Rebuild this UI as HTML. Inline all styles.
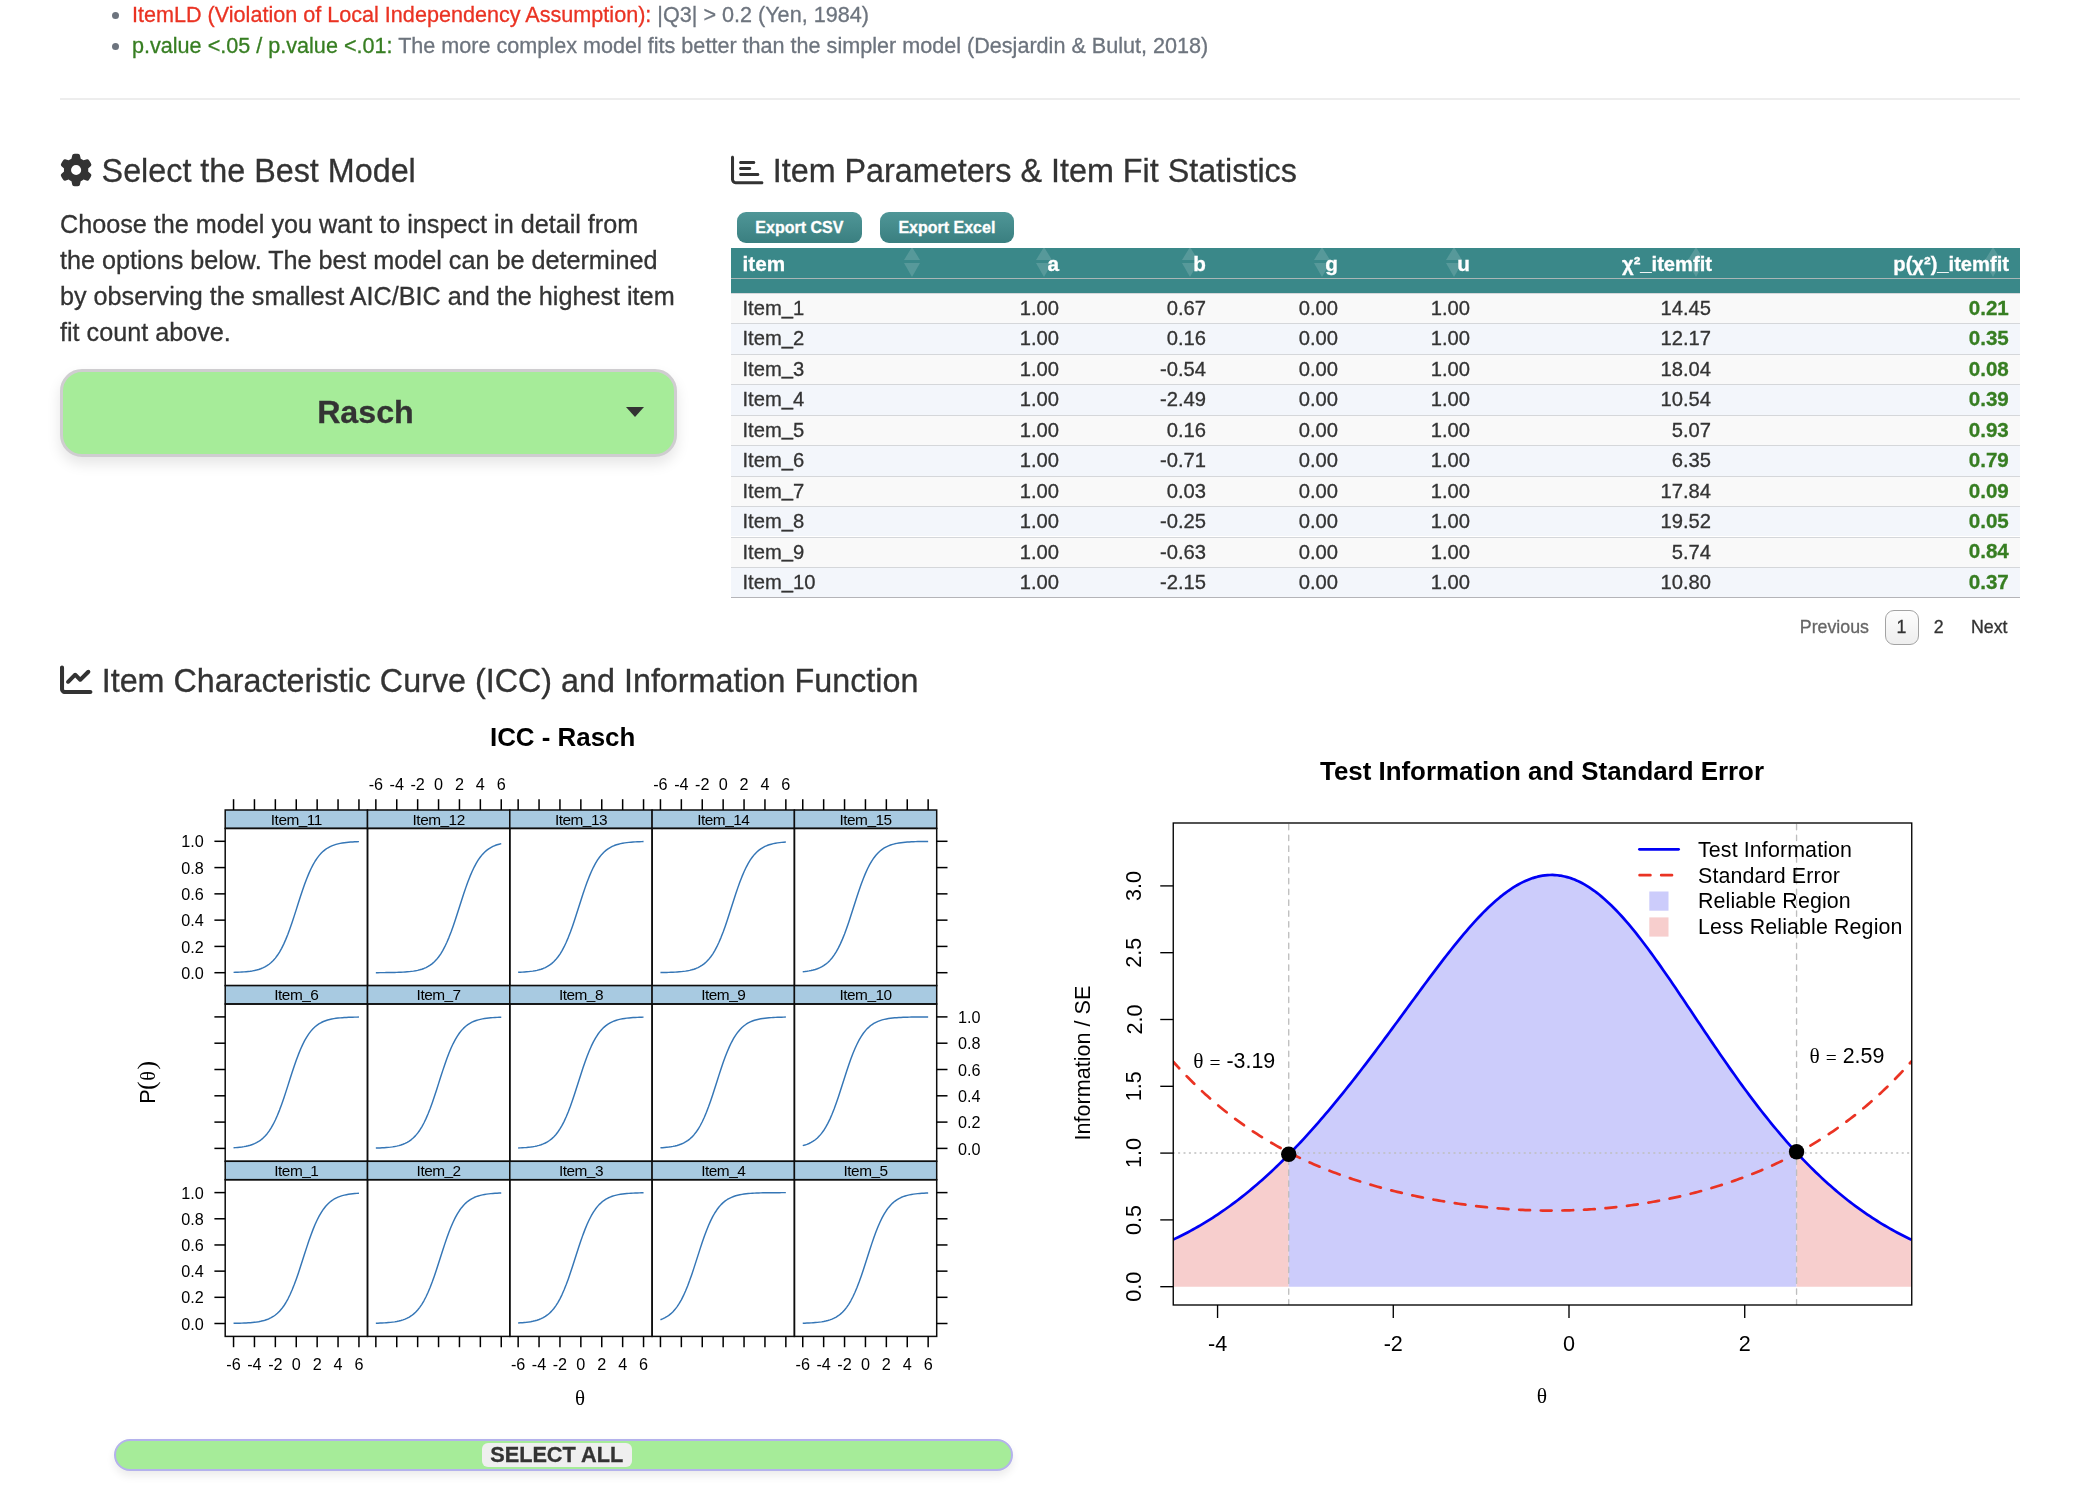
<!DOCTYPE html>
<html lang="en"><head><meta charset="utf-8"><title>IRT Model Inspection</title>
<style>
html{font-size:calc(100vw / 20.8)}
html,body{margin:0;padding:0;background:#fff}
body{width:20.8rem;height:14.9rem;overflow:hidden;font-family:"Liberation Sans", Arial, Helvetica, sans-serif;color:#333}
.page{position:relative;width:20.8rem;height:14.9rem;overflow:hidden;transform:translateZ(0);-webkit-text-stroke:0.003rem}
svg.ov text{-webkit-text-stroke:0}
.t{position:absolute;white-space:nowrap;margin:0;font-weight:normal}
h3.t{font-weight:normal}
ul.notes{margin:0;padding:0;list-style:none}
.dot{position:absolute;width:0.074rem;height:0.074rem;border-radius:50%;background:#6d747e}
.hr{position:absolute;left:0.6rem;top:0.98rem;width:19.6rem;height:0.015rem;background:#ededed}
.dd{position:absolute;left:0.602rem;top:3.69rem;width:6.169rem;height:0.877rem;box-sizing:border-box;border:0.03rem solid #cfcdd0;border-radius:0.22rem;background:#a6ec99;box-shadow:0 0.07rem 0.14rem rgba(0,0,0,.10)}
.ddt{position:absolute;left:0;width:6.045rem;text-align:center;top:0.1834rem;font-size:0.322rem;line-height:0.44rem;font-weight:bold;color:#333}
.caret{position:absolute;left:5.632rem;top:0.35rem;width:0;height:0;border-left:0.09rem solid transparent;border-right:0.09rem solid transparent;border-top:0.1rem solid #333}
.btn{position:absolute;top:2.121rem;height:0.306rem;border-radius:0.09rem;background:linear-gradient(#4f9697,#3a7f80);color:#fff;font-weight:bold;font-size:0.16rem;line-height:0.3251rem;text-align:center}
.thead{position:absolute;left:7.309rem;top:2.481rem;width:12.891rem;height:0.448rem;background:#3a8889}
.thline{position:absolute;left:7.309rem;top:2.782rem;width:12.891rem;height:0.012rem;background:#a9b6b6}
.sa,.sd{position:absolute;width:0;height:0;border-left:0.083rem solid transparent;border-right:0.083rem solid transparent}
.sa{top:2.474rem;border-bottom:0.134rem solid rgba(255,255,255,.15)}
.sd{top:2.631rem;border-top:0.144rem solid rgba(255,255,255,.15)}
.us{position:relative;top:-0.015rem}
.row{position:absolute;left:7.309rem;width:12.891rem;height:0.3045rem;box-sizing:border-box;border-top:0.013rem solid #d5d7da}
.ro{background:#f9f9f9}
.re{background:#f3f6fb}
.tbot{position:absolute;left:7.309rem;top:5.965rem;width:12.891rem;height:0.018rem;background:#b4b4b8}
.pg{position:absolute;left:18.846rem;top:6.1rem;width:0.34rem;height:0.352rem;box-sizing:border-box;border:0.013rem solid #a3a3a3;border-radius:0.09rem;background:linear-gradient(#fdfdfd,#eeeeee)}
.selbar{position:absolute;left:1.136rem;top:14.39rem;width:8.991rem;height:0.315rem;box-sizing:border-box;border:0.022rem solid #b4b2ec;border-radius:0.16rem;background:#a6ec99;box-shadow:0 0.05rem 0.09rem rgba(0,0,0,.08)}
.selpill{position:absolute;left:3.662rem;top:0.018rem;width:1.498rem;height:0.247rem;border-radius:0.06rem;background:#efefef;font-weight:bold;font-size:0.217rem;line-height:0.2496rem;text-align:center;color:#333}
svg.ov{position:absolute;left:0;top:0;width:20.8rem;height:14.9rem;pointer-events:none}
</style></head>
<body>
<div class="page">
<ul class="notes">
<li><span class="t" style="left:1.32rem;top:-0.0028rem;font-size:0.216rem;line-height:0.3rem;color:#6d747e"><span style="color:#ea3323">ItemLD (Violation of Local Independency Assumption):</span> |Q3| &gt; 0.2 (Yen, 1984)</span></li>
<li><span class="t" style="left:1.32rem;top:0.3082rem;font-size:0.216rem;line-height:0.3rem;color:#6d747e"><span style="color:#377e22">p.value &lt;.05 / p.value &lt;.01:</span> The more complex model fits better than the simpler model (Desjardin &amp; Bulut, 2018)</span></li>
</ul>
<div class="dot" style="left:1.118rem;top:0.117rem"></div><div class="dot" style="left:1.118rem;top:0.429rem"></div>
<div class="hr"></div>
<h3 class="t" style="top:1.4771rem;font-size:0.323rem;line-height:0.46rem;height:0.46rem;color:#333;left:1.016rem;">Select the Best Model</h3>
<div class="t" style="top:2.0577rem;font-size:0.252rem;line-height:0.36rem;height:0.36rem;color:#333;left:0.6rem;">Choose the model you want to inspect in detail from</div>
<div class="t" style="top:2.4177rem;font-size:0.252rem;line-height:0.36rem;height:0.36rem;color:#333;left:0.6rem;">the options below. The best model can be determined</div>
<div class="t" style="top:2.7777rem;font-size:0.252rem;line-height:0.36rem;height:0.36rem;color:#333;left:0.6rem;">by observing the smallest AIC/BIC and the highest item</div>
<div class="t" style="top:3.1377rem;font-size:0.252rem;line-height:0.36rem;height:0.36rem;color:#333;left:0.6rem;">fit count above.</div>
<div class="dd"><span class="ddt">Rasch</span><span class="caret"></span></div>
<h3 class="t" style="top:1.4771rem;font-size:0.323rem;line-height:0.46rem;height:0.46rem;color:#333;left:7.728rem;">Item Parameters &amp; Item Fit Statistics</h3>
<div class="btn" style="left:7.368rem;width:1.251rem">Export CSV</div>
<div class="btn" style="left:8.801rem;width:1.336rem">Export Excel</div>
<div class="thead"></div><div class="thline"></div>
<div class="sa" style="left:9.036rem"></div><div class="sd" style="left:9.036rem"></div>
<div class="sa" style="left:10.359rem"></div><div class="sd" style="left:10.359rem"></div>
<div class="sa" style="left:11.824rem"></div><div class="sd" style="left:11.824rem"></div>
<div class="sa" style="left:13.144rem"></div><div class="sd" style="left:13.144rem"></div>
<div class="sa" style="left:14.464rem"></div><div class="sd" style="left:14.464rem"></div>
<div class="sa" style="left:16.879rem"></div><div class="sd" style="left:16.879rem"></div>
<div class="sa" style="left:19.849rem"></div><div class="sd" style="left:19.849rem"></div>
<div class="t" style="top:2.5003rem;font-size:0.207rem;line-height:0.28rem;height:0.28rem;color:#fff;font-weight:bold;left:7.425rem;">item</div>
<div class="t" style="top:2.5003rem;font-size:0.207rem;line-height:0.28rem;height:0.28rem;color:#fff;font-weight:bold;right:10.21rem;text-align:right;">a</div>
<div class="t" style="top:2.5003rem;font-size:0.207rem;line-height:0.28rem;height:0.28rem;color:#fff;font-weight:bold;right:8.74rem;text-align:right;">b</div>
<div class="t" style="top:2.5003rem;font-size:0.207rem;line-height:0.28rem;height:0.28rem;color:#fff;font-weight:bold;right:7.42rem;text-align:right;">g</div>
<div class="t" style="top:2.5003rem;font-size:0.207rem;line-height:0.28rem;height:0.28rem;color:#fff;font-weight:bold;right:6.1rem;text-align:right;">u</div>
<div class="t" style="top:2.5022rem;font-size:0.2015rem;line-height:0.28rem;height:0.28rem;color:#fff;font-weight:bold;right:3.68rem;text-align:right;">χ²<span class="us">_</span>itemfit</div>
<div class="t" style="top:2.5022rem;font-size:0.2015rem;line-height:0.28rem;height:0.28rem;color:#fff;font-weight:bold;right:0.71rem;text-align:right;">p(χ²)<span class="us">_</span>itemfit</div>
<div class="row ro" style="top:2.929rem"></div>
<div class="t" style="top:2.94rem;font-size:0.202rem;line-height:0.28rem;height:0.28rem;color:#333;left:7.425rem;">Item<span class="us">_</span>1</div>
<div class="t" style="top:2.94rem;font-size:0.202rem;line-height:0.28rem;height:0.28rem;color:#333;right:10.21rem;text-align:right;">1.00</div>
<div class="t" style="top:2.94rem;font-size:0.202rem;line-height:0.28rem;height:0.28rem;color:#333;right:8.74rem;text-align:right;">0.67</div>
<div class="t" style="top:2.94rem;font-size:0.202rem;line-height:0.28rem;height:0.28rem;color:#333;right:7.42rem;text-align:right;">0.00</div>
<div class="t" style="top:2.94rem;font-size:0.202rem;line-height:0.28rem;height:0.28rem;color:#333;right:6.1rem;text-align:right;">1.00</div>
<div class="t" style="top:2.94rem;font-size:0.202rem;line-height:0.28rem;height:0.28rem;color:#333;right:3.69rem;text-align:right;">14.45</div>
<div class="t" style="top:2.9386rem;font-size:0.206rem;line-height:0.28rem;height:0.28rem;color:#377e22;font-weight:bold;right:0.712rem;text-align:right;">0.21</div>
<div class="row re" style="top:3.2335rem"></div>
<div class="t" style="top:3.2445rem;font-size:0.202rem;line-height:0.28rem;height:0.28rem;color:#333;left:7.425rem;">Item<span class="us">_</span>2</div>
<div class="t" style="top:3.2445rem;font-size:0.202rem;line-height:0.28rem;height:0.28rem;color:#333;right:10.21rem;text-align:right;">1.00</div>
<div class="t" style="top:3.2445rem;font-size:0.202rem;line-height:0.28rem;height:0.28rem;color:#333;right:8.74rem;text-align:right;">0.16</div>
<div class="t" style="top:3.2445rem;font-size:0.202rem;line-height:0.28rem;height:0.28rem;color:#333;right:7.42rem;text-align:right;">0.00</div>
<div class="t" style="top:3.2445rem;font-size:0.202rem;line-height:0.28rem;height:0.28rem;color:#333;right:6.1rem;text-align:right;">1.00</div>
<div class="t" style="top:3.2445rem;font-size:0.202rem;line-height:0.28rem;height:0.28rem;color:#333;right:3.69rem;text-align:right;">12.17</div>
<div class="t" style="top:3.2431rem;font-size:0.206rem;line-height:0.28rem;height:0.28rem;color:#377e22;font-weight:bold;right:0.712rem;text-align:right;">0.35</div>
<div class="row ro" style="top:3.538rem"></div>
<div class="t" style="top:3.549rem;font-size:0.202rem;line-height:0.28rem;height:0.28rem;color:#333;left:7.425rem;">Item<span class="us">_</span>3</div>
<div class="t" style="top:3.549rem;font-size:0.202rem;line-height:0.28rem;height:0.28rem;color:#333;right:10.21rem;text-align:right;">1.00</div>
<div class="t" style="top:3.549rem;font-size:0.202rem;line-height:0.28rem;height:0.28rem;color:#333;right:8.74rem;text-align:right;">-0.54</div>
<div class="t" style="top:3.549rem;font-size:0.202rem;line-height:0.28rem;height:0.28rem;color:#333;right:7.42rem;text-align:right;">0.00</div>
<div class="t" style="top:3.549rem;font-size:0.202rem;line-height:0.28rem;height:0.28rem;color:#333;right:6.1rem;text-align:right;">1.00</div>
<div class="t" style="top:3.549rem;font-size:0.202rem;line-height:0.28rem;height:0.28rem;color:#333;right:3.69rem;text-align:right;">18.04</div>
<div class="t" style="top:3.5476rem;font-size:0.206rem;line-height:0.28rem;height:0.28rem;color:#377e22;font-weight:bold;right:0.712rem;text-align:right;">0.08</div>
<div class="row re" style="top:3.8425rem"></div>
<div class="t" style="top:3.8535rem;font-size:0.202rem;line-height:0.28rem;height:0.28rem;color:#333;left:7.425rem;">Item<span class="us">_</span>4</div>
<div class="t" style="top:3.8535rem;font-size:0.202rem;line-height:0.28rem;height:0.28rem;color:#333;right:10.21rem;text-align:right;">1.00</div>
<div class="t" style="top:3.8535rem;font-size:0.202rem;line-height:0.28rem;height:0.28rem;color:#333;right:8.74rem;text-align:right;">-2.49</div>
<div class="t" style="top:3.8535rem;font-size:0.202rem;line-height:0.28rem;height:0.28rem;color:#333;right:7.42rem;text-align:right;">0.00</div>
<div class="t" style="top:3.8535rem;font-size:0.202rem;line-height:0.28rem;height:0.28rem;color:#333;right:6.1rem;text-align:right;">1.00</div>
<div class="t" style="top:3.8535rem;font-size:0.202rem;line-height:0.28rem;height:0.28rem;color:#333;right:3.69rem;text-align:right;">10.54</div>
<div class="t" style="top:3.8521rem;font-size:0.206rem;line-height:0.28rem;height:0.28rem;color:#377e22;font-weight:bold;right:0.712rem;text-align:right;">0.39</div>
<div class="row ro" style="top:4.147rem"></div>
<div class="t" style="top:4.158rem;font-size:0.202rem;line-height:0.28rem;height:0.28rem;color:#333;left:7.425rem;">Item<span class="us">_</span>5</div>
<div class="t" style="top:4.158rem;font-size:0.202rem;line-height:0.28rem;height:0.28rem;color:#333;right:10.21rem;text-align:right;">1.00</div>
<div class="t" style="top:4.158rem;font-size:0.202rem;line-height:0.28rem;height:0.28rem;color:#333;right:8.74rem;text-align:right;">0.16</div>
<div class="t" style="top:4.158rem;font-size:0.202rem;line-height:0.28rem;height:0.28rem;color:#333;right:7.42rem;text-align:right;">0.00</div>
<div class="t" style="top:4.158rem;font-size:0.202rem;line-height:0.28rem;height:0.28rem;color:#333;right:6.1rem;text-align:right;">1.00</div>
<div class="t" style="top:4.158rem;font-size:0.202rem;line-height:0.28rem;height:0.28rem;color:#333;right:3.69rem;text-align:right;">5.07</div>
<div class="t" style="top:4.1566rem;font-size:0.206rem;line-height:0.28rem;height:0.28rem;color:#377e22;font-weight:bold;right:0.712rem;text-align:right;">0.93</div>
<div class="row re" style="top:4.4515rem"></div>
<div class="t" style="top:4.4625rem;font-size:0.202rem;line-height:0.28rem;height:0.28rem;color:#333;left:7.425rem;">Item<span class="us">_</span>6</div>
<div class="t" style="top:4.4625rem;font-size:0.202rem;line-height:0.28rem;height:0.28rem;color:#333;right:10.21rem;text-align:right;">1.00</div>
<div class="t" style="top:4.4625rem;font-size:0.202rem;line-height:0.28rem;height:0.28rem;color:#333;right:8.74rem;text-align:right;">-0.71</div>
<div class="t" style="top:4.4625rem;font-size:0.202rem;line-height:0.28rem;height:0.28rem;color:#333;right:7.42rem;text-align:right;">0.00</div>
<div class="t" style="top:4.4625rem;font-size:0.202rem;line-height:0.28rem;height:0.28rem;color:#333;right:6.1rem;text-align:right;">1.00</div>
<div class="t" style="top:4.4625rem;font-size:0.202rem;line-height:0.28rem;height:0.28rem;color:#333;right:3.69rem;text-align:right;">6.35</div>
<div class="t" style="top:4.4611rem;font-size:0.206rem;line-height:0.28rem;height:0.28rem;color:#377e22;font-weight:bold;right:0.712rem;text-align:right;">0.79</div>
<div class="row ro" style="top:4.756rem"></div>
<div class="t" style="top:4.767rem;font-size:0.202rem;line-height:0.28rem;height:0.28rem;color:#333;left:7.425rem;">Item<span class="us">_</span>7</div>
<div class="t" style="top:4.767rem;font-size:0.202rem;line-height:0.28rem;height:0.28rem;color:#333;right:10.21rem;text-align:right;">1.00</div>
<div class="t" style="top:4.767rem;font-size:0.202rem;line-height:0.28rem;height:0.28rem;color:#333;right:8.74rem;text-align:right;">0.03</div>
<div class="t" style="top:4.767rem;font-size:0.202rem;line-height:0.28rem;height:0.28rem;color:#333;right:7.42rem;text-align:right;">0.00</div>
<div class="t" style="top:4.767rem;font-size:0.202rem;line-height:0.28rem;height:0.28rem;color:#333;right:6.1rem;text-align:right;">1.00</div>
<div class="t" style="top:4.767rem;font-size:0.202rem;line-height:0.28rem;height:0.28rem;color:#333;right:3.69rem;text-align:right;">17.84</div>
<div class="t" style="top:4.7656rem;font-size:0.206rem;line-height:0.28rem;height:0.28rem;color:#377e22;font-weight:bold;right:0.712rem;text-align:right;">0.09</div>
<div class="row re" style="top:5.0605rem"></div>
<div class="t" style="top:5.0715rem;font-size:0.202rem;line-height:0.28rem;height:0.28rem;color:#333;left:7.425rem;">Item<span class="us">_</span>8</div>
<div class="t" style="top:5.0715rem;font-size:0.202rem;line-height:0.28rem;height:0.28rem;color:#333;right:10.21rem;text-align:right;">1.00</div>
<div class="t" style="top:5.0715rem;font-size:0.202rem;line-height:0.28rem;height:0.28rem;color:#333;right:8.74rem;text-align:right;">-0.25</div>
<div class="t" style="top:5.0715rem;font-size:0.202rem;line-height:0.28rem;height:0.28rem;color:#333;right:7.42rem;text-align:right;">0.00</div>
<div class="t" style="top:5.0715rem;font-size:0.202rem;line-height:0.28rem;height:0.28rem;color:#333;right:6.1rem;text-align:right;">1.00</div>
<div class="t" style="top:5.0715rem;font-size:0.202rem;line-height:0.28rem;height:0.28rem;color:#333;right:3.69rem;text-align:right;">19.52</div>
<div class="t" style="top:5.0701rem;font-size:0.206rem;line-height:0.28rem;height:0.28rem;color:#377e22;font-weight:bold;right:0.712rem;text-align:right;">0.05</div>
<div class="row ro" style="top:5.365rem"></div>
<div class="t" style="top:5.376rem;font-size:0.202rem;line-height:0.28rem;height:0.28rem;color:#333;left:7.425rem;">Item<span class="us">_</span>9</div>
<div class="t" style="top:5.376rem;font-size:0.202rem;line-height:0.28rem;height:0.28rem;color:#333;right:10.21rem;text-align:right;">1.00</div>
<div class="t" style="top:5.376rem;font-size:0.202rem;line-height:0.28rem;height:0.28rem;color:#333;right:8.74rem;text-align:right;">-0.63</div>
<div class="t" style="top:5.376rem;font-size:0.202rem;line-height:0.28rem;height:0.28rem;color:#333;right:7.42rem;text-align:right;">0.00</div>
<div class="t" style="top:5.376rem;font-size:0.202rem;line-height:0.28rem;height:0.28rem;color:#333;right:6.1rem;text-align:right;">1.00</div>
<div class="t" style="top:5.376rem;font-size:0.202rem;line-height:0.28rem;height:0.28rem;color:#333;right:3.69rem;text-align:right;">5.74</div>
<div class="t" style="top:5.3746rem;font-size:0.206rem;line-height:0.28rem;height:0.28rem;color:#377e22;font-weight:bold;right:0.712rem;text-align:right;">0.84</div>
<div class="row re" style="top:5.6695rem"></div>
<div class="t" style="top:5.6805rem;font-size:0.202rem;line-height:0.28rem;height:0.28rem;color:#333;left:7.425rem;">Item<span class="us">_</span>10</div>
<div class="t" style="top:5.6805rem;font-size:0.202rem;line-height:0.28rem;height:0.28rem;color:#333;right:10.21rem;text-align:right;">1.00</div>
<div class="t" style="top:5.6805rem;font-size:0.202rem;line-height:0.28rem;height:0.28rem;color:#333;right:8.74rem;text-align:right;">-2.15</div>
<div class="t" style="top:5.6805rem;font-size:0.202rem;line-height:0.28rem;height:0.28rem;color:#333;right:7.42rem;text-align:right;">0.00</div>
<div class="t" style="top:5.6805rem;font-size:0.202rem;line-height:0.28rem;height:0.28rem;color:#333;right:6.1rem;text-align:right;">1.00</div>
<div class="t" style="top:5.6805rem;font-size:0.202rem;line-height:0.28rem;height:0.28rem;color:#333;right:3.69rem;text-align:right;">10.80</div>
<div class="t" style="top:5.6791rem;font-size:0.206rem;line-height:0.28rem;height:0.28rem;color:#377e22;font-weight:bold;right:0.712rem;text-align:right;">0.37</div>
<div class="tbot"></div>
<div class="t" style="top:6.1543rem;font-size:0.178rem;line-height:0.24rem;height:0.24rem;color:#666;left:17.998rem;">Previous</div>
<div class="pg"></div>
<div class="t" style="top:6.1543rem;font-size:0.178rem;line-height:0.24rem;height:0.24rem;color:#333;left:14.014rem;width:10rem;text-align:center;">1</div>
<div class="t" style="top:6.1543rem;font-size:0.178rem;line-height:0.24rem;height:0.24rem;color:#333;left:14.387rem;width:10rem;text-align:center;">2</div>
<div class="t" style="top:6.1543rem;font-size:0.178rem;line-height:0.24rem;height:0.24rem;color:#333;left:19.71rem;">Next</div>
<h3 class="t" style="top:6.5831rem;font-size:0.323rem;line-height:0.46rem;height:0.46rem;color:#333;left:1.017rem;">Item Characteristic Curve (ICC) and Information Function</h3>
<div class="selbar"><span class="selpill">SELECT ALL</span></div>
<svg class="ov" viewBox="0 0 2080 1490" font-family='"Liberation Sans", Arial, Helvetica, sans-serif'><path transform="translate(59.9 153.8) scale(0.06328)" d="M495.9 166.6c3.2 8.7 .5 18.4-6.4 24.6l-43.3 39.4c1.1 8.3 1.7 16.8 1.7 25.4s-.6 17.1-1.7 25.4l43.3 39.4c6.9 6.2 9.6 15.9 6.4 24.6c-4.4 11.900-9.700 23.300-15.800 34.300l-4.700 8.100c-6.600 11-14 21.400-22.100 31.200c-5.900 7.200-15.700 9.600-24.500 6.800l-55.700-17.700c-13.400 10.300-28.200 18.900-44 25.400l-12.500 57.100c-2 9.100-9 16.300-18.200 17.800c-13.800 2.300-28 3.500-42.500 3.500s-28.700-1.200-42.500-3.500c-9.200-1.500-16.200-8.700-18.200-17.800l-12.500-57.100c-15.800-6.500-30.600-15.100-44-25.400L83.100 425.900c-8.800 2.800-18.600 .3-24.500-6.800c-8.100-9.800-15.500-20.200-22.100-31.200l-4.700-8.100c-6.100-11-11.400-22.400-15.800-34.300c-3.200-8.700-.5-18.400 6.400-24.600l43.300-39.400C64.600 273.100 64 264.600 64 256s.6-17.100 1.700-25.400L22.400 191.200c-6.900-6.200-9.600-15.900-6.400-24.600c4.400-11.900 9.700-23.300 15.800-34.300l4.700-8.100c6.600-11 14-21.400 22.100-31.200c5.900-7.200 15.700-9.600 24.500-6.800l55.700 17.700c13.400-10.300 28.200-18.900 44-25.400l12.500-57.100c2-9.100 9-16.300 18.200-17.800C227.300 1.200 241.500 0 256 0s28.700 1.200 42.500 3.500c9.200 1.500 16.200 8.700 18.200 17.800l12.500 57.100c15.800 6.500 30.600 15.100 44 25.400l55.700-17.700c8.800-2.800 18.600-.3 24.500 6.800c8.100 9.800 15.500 20.200 22.100 31.200l4.700 8.100c6.100 11 11.400 22.400 15.800 34.300zM256 336a80 80 0 1 0 0-160 80 80 0 1 0 0 160z" fill="#333"/>
<path transform="translate(731.0 153.8) scale(0.06328)" d="M24 32c13.3 0 24 10.700 24 24V408c0 13.300 10.700 24 24 24H488c13.300 0 24 10.700 24 24s-10.700 24-24 24H72c-39.800 0-72-32.200-72-72V56C0 42.700 10.700 32 24 32zM128 136c0-13.300 10.700-24 24-24l208 0c13.300 0 24 10.700 24 24s-10.700 24-24 24l-208 0c-13.300 0-24-10.700-24-24zm24 72H296c13.300 0 24 10.700 24 24s-10.700 24-24 24H152c-13.300 0-24-10.700-24-24s10.700-24 24-24zm0 96H424c13.300 0 24 10.700 24 24s-10.700 24-24 24H152c-13.300 0-24-10.700-24-24s10.700-24 24-24z" fill="#333"/>
<path transform="translate(60.0 663.6) scale(0.06328)" d="M64 64c0-17.700-14.300-32-32-32S0 46.300 0 64V400c0 44.200 35.800 80 80 80H480c17.700 0 32-14.300 32-32s-14.300-32-32-32H80c-8.800 0-16-7.200-16-16V64zm406.600 86.600c12.500-12.500 12.500-32.800 0-45.300s-32.800-12.500-45.300 0L320 210.700l-57.400-57.400c-12.500-12.500-32.800-12.500-45.300 0l-112 112c-12.500 12.500-12.500 32.800 0 45.300s32.800 12.500 45.300 0L240 221.300l57.400 57.400c12.500 12.500 32.800 12.500 45.300 0l128-128z" fill="#333"/>
<text x="562.60" y="745.90" font-size="25.9" text-anchor="middle" font-weight="bold" fill="#000">ICC - Rasch</text>
<g><rect x="225.20" y="810.00" width="142.3" height="18.4" fill="#a8cae1" stroke="#0d0d0d" stroke-width="1.5"/><rect x="225.20" y="828.40" width="142.3" height="157.20" fill="none" stroke="#0d0d0d" stroke-width="1.5"/><text x="296.35" y="824.70" font-size="15.4" text-anchor="middle" fill="#000" letter-spacing="-0.5">Item<tspan dy="-1.1">_</tspan><tspan dy="1.1">11</tspan></text><polyline points="233.55,972.40 235.64,972.33 237.73,972.25 239.82,972.15 241.91,972.03 244.00,971.89 246.09,971.71 248.18,971.49 250.27,971.23 252.36,970.91 254.45,970.52 256.54,970.04 258.63,969.47 260.72,968.77 262.81,967.93 264.90,966.93 266.99,965.72 269.08,964.27 271.17,962.55 273.26,960.51 275.35,958.11 277.44,955.30 279.53,952.06 281.62,948.33 283.71,944.11 285.80,939.39 287.89,934.18 289.98,928.52 292.07,922.47 294.16,916.14 296.25,909.63 298.34,903.06 300.43,896.58 302.52,890.29 304.61,884.32 306.70,878.74 308.79,873.63 310.88,869.00 312.97,864.88 315.06,861.26 317.15,858.10 319.24,855.38 321.33,853.06 323.42,851.09 325.51,849.42 327.60,848.02 329.69,846.86 331.78,845.88 333.87,845.08 335.96,844.41 338.05,843.86 340.14,843.40 342.23,843.02 344.32,842.72 346.41,842.46 348.50,842.25 350.59,842.08 352.68,841.94 354.77,841.82 356.86,841.73 358.95,841.65" fill="none" stroke="#3576b6" stroke-width="1.45" stroke-linejoin="round"/><path d="M233.55,810.00v-10.8" stroke="#000" stroke-width="1.5"/><path d="M254.45,810.00v-10.8" stroke="#000" stroke-width="1.5"/><path d="M275.35,810.00v-10.8" stroke="#000" stroke-width="1.5"/><path d="M296.25,810.00v-10.8" stroke="#000" stroke-width="1.5"/><path d="M317.15,810.00v-10.8" stroke="#000" stroke-width="1.5"/><path d="M338.05,810.00v-10.8" stroke="#000" stroke-width="1.5"/><path d="M358.95,810.00v-10.8" stroke="#000" stroke-width="1.5"/><rect x="367.50" y="810.00" width="142.3" height="18.4" fill="#a8cae1" stroke="#0d0d0d" stroke-width="1.5"/><rect x="367.50" y="828.40" width="142.3" height="157.20" fill="none" stroke="#0d0d0d" stroke-width="1.5"/><text x="438.65" y="824.70" font-size="15.4" text-anchor="middle" fill="#000" letter-spacing="-0.5">Item<tspan dy="-1.1">_</tspan><tspan dy="1.1">12</tspan></text><polyline points="375.85,972.66 377.94,972.65 380.03,972.63 382.12,972.62 384.21,972.60 386.30,972.58 388.39,972.55 390.48,972.52 392.57,972.48 394.66,972.43 396.75,972.38 398.84,972.30 400.93,972.22 403.02,972.11 405.11,971.98 407.20,971.82 409.29,971.63 411.38,971.39 413.47,971.11 415.56,970.76 417.65,970.34 419.74,969.82 421.83,969.21 423.92,968.46 426.01,967.55 428.10,966.47 430.19,965.17 432.28,963.62 434.37,961.77 436.46,959.59 438.55,957.04 440.64,954.06 442.73,950.63 444.82,946.71 446.91,942.28 449.00,937.36 451.09,931.96 453.18,926.14 455.27,919.97 457.36,913.55 459.45,907.00 461.54,900.45 463.63,894.03 465.72,887.86 467.81,882.04 469.90,876.64 471.99,871.72 474.08,867.29 476.17,863.37 478.26,859.94 480.35,856.96 482.44,854.41 484.53,852.23 486.62,850.38 488.71,848.83 490.80,847.53 492.89,846.45 494.98,845.54 497.07,844.79 499.16,844.18 501.25,843.66" fill="none" stroke="#3576b6" stroke-width="1.45" stroke-linejoin="round"/><path d="M375.85,810.00v-10.8" stroke="#000" stroke-width="1.5"/><path d="M396.75,810.00v-10.8" stroke="#000" stroke-width="1.5"/><path d="M417.65,810.00v-10.8" stroke="#000" stroke-width="1.5"/><path d="M438.55,810.00v-10.8" stroke="#000" stroke-width="1.5"/><path d="M459.45,810.00v-10.8" stroke="#000" stroke-width="1.5"/><path d="M480.35,810.00v-10.8" stroke="#000" stroke-width="1.5"/><path d="M501.25,810.00v-10.8" stroke="#000" stroke-width="1.5"/><text x="375.85" y="789.80" font-size="16.2" text-anchor="middle" fill="#000">-6</text><text x="396.75" y="789.80" font-size="16.2" text-anchor="middle" fill="#000">-4</text><text x="417.65" y="789.80" font-size="16.2" text-anchor="middle" fill="#000">-2</text><text x="438.55" y="789.80" font-size="16.2" text-anchor="middle" fill="#000">0</text><text x="459.45" y="789.80" font-size="16.2" text-anchor="middle" fill="#000">2</text><text x="480.35" y="789.80" font-size="16.2" text-anchor="middle" fill="#000">4</text><text x="501.25" y="789.80" font-size="16.2" text-anchor="middle" fill="#000">6</text><rect x="509.80" y="810.00" width="142.3" height="18.4" fill="#a8cae1" stroke="#0d0d0d" stroke-width="1.5"/><rect x="509.80" y="828.40" width="142.3" height="157.20" fill="none" stroke="#0d0d0d" stroke-width="1.5"/><text x="580.95" y="824.70" font-size="15.4" text-anchor="middle" fill="#000" letter-spacing="-0.5">Item<tspan dy="-1.1">_</tspan><tspan dy="1.1">13</tspan></text><polyline points="518.15,972.30 520.24,972.22 522.33,972.11 524.42,971.98 526.51,971.82 528.60,971.63 530.69,971.39 532.78,971.11 534.87,970.76 536.96,970.34 539.05,969.82 541.14,969.21 543.23,968.46 545.32,967.55 547.41,966.47 549.50,965.17 551.59,963.62 553.68,961.77 555.77,959.59 557.86,957.04 559.95,954.06 562.04,950.63 564.13,946.71 566.22,942.28 568.31,937.36 570.40,931.96 572.49,926.14 574.58,919.97 576.67,913.55 578.76,907.00 580.85,900.45 582.94,894.03 585.03,887.86 587.12,882.04 589.21,876.64 591.30,871.72 593.39,867.29 595.48,863.37 597.57,859.94 599.66,856.96 601.75,854.41 603.84,852.23 605.93,850.38 608.02,848.83 610.11,847.53 612.20,846.45 614.29,845.54 616.38,844.79 618.47,844.18 620.56,843.66 622.65,843.24 624.74,842.89 626.83,842.61 628.92,842.37 631.01,842.18 633.10,842.02 635.19,841.89 637.28,841.78 639.37,841.70 641.46,841.62 643.55,841.57" fill="none" stroke="#3576b6" stroke-width="1.45" stroke-linejoin="round"/><path d="M518.15,810.00v-10.8" stroke="#000" stroke-width="1.5"/><path d="M539.05,810.00v-10.8" stroke="#000" stroke-width="1.5"/><path d="M559.95,810.00v-10.8" stroke="#000" stroke-width="1.5"/><path d="M580.85,810.00v-10.8" stroke="#000" stroke-width="1.5"/><path d="M601.75,810.00v-10.8" stroke="#000" stroke-width="1.5"/><path d="M622.65,810.00v-10.8" stroke="#000" stroke-width="1.5"/><path d="M643.55,810.00v-10.8" stroke="#000" stroke-width="1.5"/><rect x="652.10" y="810.00" width="142.3" height="18.4" fill="#a8cae1" stroke="#0d0d0d" stroke-width="1.5"/><rect x="652.10" y="828.40" width="142.3" height="157.20" fill="none" stroke="#0d0d0d" stroke-width="1.5"/><text x="723.25" y="824.70" font-size="15.4" text-anchor="middle" fill="#000" letter-spacing="-0.5">Item<tspan dy="-1.1">_</tspan><tspan dy="1.1">14</tspan></text><polyline points="660.45,972.55 662.54,972.52 664.63,972.48 666.72,972.43 668.81,972.38 670.90,972.30 672.99,972.22 675.08,972.11 677.17,971.98 679.26,971.82 681.35,971.63 683.44,971.39 685.53,971.11 687.62,970.76 689.71,970.34 691.80,969.82 693.89,969.21 695.98,968.46 698.07,967.55 700.16,966.47 702.25,965.17 704.34,963.62 706.43,961.77 708.52,959.59 710.61,957.04 712.70,954.06 714.79,950.63 716.88,946.71 718.97,942.28 721.06,937.36 723.15,931.96 725.24,926.14 727.33,919.97 729.42,913.55 731.51,907.00 733.60,900.45 735.69,894.03 737.78,887.86 739.87,882.04 741.96,876.64 744.05,871.72 746.14,867.29 748.23,863.37 750.32,859.94 752.41,856.96 754.50,854.41 756.59,852.23 758.68,850.38 760.77,848.83 762.86,847.53 764.95,846.45 767.04,845.54 769.13,844.79 771.22,844.18 773.31,843.66 775.40,843.24 777.49,842.89 779.58,842.61 781.67,842.37 783.76,842.18 785.85,842.02" fill="none" stroke="#3576b6" stroke-width="1.45" stroke-linejoin="round"/><path d="M660.45,810.00v-10.8" stroke="#000" stroke-width="1.5"/><path d="M681.35,810.00v-10.8" stroke="#000" stroke-width="1.5"/><path d="M702.25,810.00v-10.8" stroke="#000" stroke-width="1.5"/><path d="M723.15,810.00v-10.8" stroke="#000" stroke-width="1.5"/><path d="M744.05,810.00v-10.8" stroke="#000" stroke-width="1.5"/><path d="M764.95,810.00v-10.8" stroke="#000" stroke-width="1.5"/><path d="M785.85,810.00v-10.8" stroke="#000" stroke-width="1.5"/><text x="660.45" y="789.80" font-size="16.2" text-anchor="middle" fill="#000">-6</text><text x="681.35" y="789.80" font-size="16.2" text-anchor="middle" fill="#000">-4</text><text x="702.25" y="789.80" font-size="16.2" text-anchor="middle" fill="#000">-2</text><text x="723.15" y="789.80" font-size="16.2" text-anchor="middle" fill="#000">0</text><text x="744.05" y="789.80" font-size="16.2" text-anchor="middle" fill="#000">2</text><text x="764.95" y="789.80" font-size="16.2" text-anchor="middle" fill="#000">4</text><text x="785.85" y="789.80" font-size="16.2" text-anchor="middle" fill="#000">6</text><rect x="794.40" y="810.00" width="142.3" height="18.4" fill="#a8cae1" stroke="#0d0d0d" stroke-width="1.5"/><rect x="794.40" y="828.40" width="142.3" height="157.20" fill="none" stroke="#0d0d0d" stroke-width="1.5"/><text x="865.55" y="824.70" font-size="15.4" text-anchor="middle" fill="#000" letter-spacing="-0.5">Item<tspan dy="-1.1">_</tspan><tspan dy="1.1">15</tspan></text><polyline points="802.75,971.70 804.84,971.48 806.93,971.21 809.02,970.89 811.11,970.49 813.20,970.02 815.29,969.44 817.38,968.73 819.47,967.89 821.56,966.87 823.65,965.65 825.74,964.19 827.83,962.45 829.92,960.40 832.01,957.98 834.10,955.15 836.19,951.88 838.28,948.14 840.37,943.89 842.46,939.14 844.55,933.90 846.64,928.22 848.73,922.16 850.82,915.82 852.91,909.30 855.00,902.74 857.09,896.26 859.18,889.99 861.27,884.03 863.36,878.48 865.45,873.38 867.54,868.78 869.63,864.69 871.72,861.09 873.81,857.96 875.90,855.26 877.99,852.95 880.08,850.99 882.17,849.35 884.26,847.96 886.35,846.80 888.44,845.84 890.53,845.04 892.62,844.38 894.71,843.83 896.80,843.38 898.89,843.01 900.98,842.70 903.07,842.45 905.16,842.24 907.25,842.07 909.34,841.93 911.43,841.82 913.52,841.73 915.61,841.65 917.70,841.59 919.79,841.53 921.88,841.49 923.97,841.46 926.06,841.43 928.15,841.41" fill="none" stroke="#3576b6" stroke-width="1.45" stroke-linejoin="round"/><path d="M802.75,810.00v-10.8" stroke="#000" stroke-width="1.5"/><path d="M823.65,810.00v-10.8" stroke="#000" stroke-width="1.5"/><path d="M844.55,810.00v-10.8" stroke="#000" stroke-width="1.5"/><path d="M865.45,810.00v-10.8" stroke="#000" stroke-width="1.5"/><path d="M886.35,810.00v-10.8" stroke="#000" stroke-width="1.5"/><path d="M907.25,810.00v-10.8" stroke="#000" stroke-width="1.5"/><path d="M928.15,810.00v-10.8" stroke="#000" stroke-width="1.5"/><path d="M225.20,972.70h-10.8" stroke="#000" stroke-width="1.5"/><path d="M936.70,972.70h10.8" stroke="#000" stroke-width="1.5"/><text x="203.80" y="978.80" font-size="16.2" text-anchor="end" fill="#000">0.0</text><path d="M225.20,946.42h-10.8" stroke="#000" stroke-width="1.5"/><path d="M936.70,946.42h10.8" stroke="#000" stroke-width="1.5"/><text x="203.80" y="952.52" font-size="16.2" text-anchor="end" fill="#000">0.2</text><path d="M225.20,920.14h-10.8" stroke="#000" stroke-width="1.5"/><path d="M936.70,920.14h10.8" stroke="#000" stroke-width="1.5"/><text x="203.80" y="926.24" font-size="16.2" text-anchor="end" fill="#000">0.4</text><path d="M225.20,893.86h-10.8" stroke="#000" stroke-width="1.5"/><path d="M936.70,893.86h10.8" stroke="#000" stroke-width="1.5"/><text x="203.80" y="899.96" font-size="16.2" text-anchor="end" fill="#000">0.6</text><path d="M225.20,867.58h-10.8" stroke="#000" stroke-width="1.5"/><path d="M936.70,867.58h10.8" stroke="#000" stroke-width="1.5"/><text x="203.80" y="873.68" font-size="16.2" text-anchor="end" fill="#000">0.8</text><path d="M225.20,841.30h-10.8" stroke="#000" stroke-width="1.5"/><path d="M936.70,841.30h10.8" stroke="#000" stroke-width="1.5"/><text x="203.80" y="847.40" font-size="16.2" text-anchor="end" fill="#000">1.0</text><rect x="225.20" y="985.60" width="142.3" height="18.4" fill="#a8cae1" stroke="#0d0d0d" stroke-width="1.5"/><rect x="225.20" y="1004.00" width="142.3" height="157.30" fill="none" stroke="#0d0d0d" stroke-width="1.5"/><text x="296.35" y="1000.30" font-size="15.4" text-anchor="middle" fill="#000" letter-spacing="-0.5">Item<tspan dy="-1.1">_</tspan><tspan dy="1.1">6</tspan></text><polyline points="233.55,1147.74 235.64,1147.60 237.73,1147.42 239.82,1147.20 241.91,1146.94 244.00,1146.62 246.09,1146.24 248.18,1145.77 250.27,1145.20 252.36,1144.51 254.45,1143.68 256.54,1142.68 258.63,1141.48 260.72,1140.04 262.81,1138.33 264.90,1136.31 266.99,1133.93 269.08,1131.14 271.17,1127.92 273.26,1124.21 275.35,1120.02 277.44,1115.31 279.53,1110.12 281.62,1104.47 283.71,1098.44 285.80,1092.12 287.89,1085.61 289.98,1079.04 292.07,1072.54 294.16,1066.24 296.25,1060.24 298.34,1054.64 300.43,1049.50 302.52,1044.84 304.61,1040.69 306.70,1037.04 308.79,1033.86 310.88,1031.12 312.97,1028.77 315.06,1026.78 317.15,1025.10 319.24,1023.69 321.33,1022.51 323.42,1021.53 325.51,1020.72 327.60,1020.04 329.69,1019.48 331.78,1019.02 333.87,1018.64 335.96,1018.33 338.05,1018.07 340.14,1017.86 342.23,1017.69 344.32,1017.55 346.41,1017.43 348.50,1017.33 350.59,1017.26 352.68,1017.19 354.77,1017.14 356.86,1017.10 358.95,1017.06" fill="none" stroke="#3576b6" stroke-width="1.45" stroke-linejoin="round"/><rect x="367.50" y="985.60" width="142.3" height="18.4" fill="#a8cae1" stroke="#0d0d0d" stroke-width="1.5"/><rect x="367.50" y="1004.00" width="142.3" height="157.30" fill="none" stroke="#0d0d0d" stroke-width="1.5"/><text x="438.65" y="1000.30" font-size="15.4" text-anchor="middle" fill="#000" letter-spacing="-0.5">Item<tspan dy="-1.1">_</tspan><tspan dy="1.1">7</tspan></text><polyline points="375.85,1148.08 377.94,1148.01 380.03,1147.93 382.12,1147.83 384.21,1147.70 386.30,1147.55 388.39,1147.36 390.48,1147.13 392.57,1146.85 394.66,1146.51 396.75,1146.10 398.84,1145.61 400.93,1145.00 403.02,1144.27 405.11,1143.40 407.20,1142.34 409.29,1141.07 411.38,1139.56 413.47,1137.76 415.56,1135.63 417.65,1133.13 419.74,1130.22 421.83,1126.86 423.92,1123.01 426.01,1118.66 428.10,1113.80 430.19,1108.47 432.28,1102.70 434.37,1096.57 436.46,1090.18 438.55,1083.64 440.64,1077.07 442.73,1070.62 444.82,1064.40 446.91,1058.52 449.00,1053.05 451.09,1048.05 453.18,1043.54 455.27,1039.55 457.36,1036.04 459.45,1032.99 461.54,1030.38 463.63,1028.14 465.72,1026.25 467.81,1024.65 469.90,1023.32 471.99,1022.20 474.08,1021.27 476.17,1020.50 478.26,1019.86 480.35,1019.34 482.44,1018.90 484.53,1018.54 486.62,1018.25 488.71,1018.01 490.80,1017.81 492.89,1017.64 494.98,1017.51 497.07,1017.40 499.16,1017.31 501.25,1017.24" fill="none" stroke="#3576b6" stroke-width="1.45" stroke-linejoin="round"/><rect x="509.80" y="985.60" width="142.3" height="18.4" fill="#a8cae1" stroke="#0d0d0d" stroke-width="1.5"/><rect x="509.80" y="1004.00" width="142.3" height="157.30" fill="none" stroke="#0d0d0d" stroke-width="1.5"/><text x="580.95" y="1000.30" font-size="15.4" text-anchor="middle" fill="#000" letter-spacing="-0.5">Item<tspan dy="-1.1">_</tspan><tspan dy="1.1">8</tspan></text><polyline points="518.15,1147.98 520.24,1147.89 522.33,1147.78 524.42,1147.64 526.51,1147.48 528.60,1147.27 530.69,1147.02 532.78,1146.72 534.87,1146.36 536.96,1145.92 539.05,1145.38 541.14,1144.73 543.23,1143.94 545.32,1143.00 547.41,1141.86 549.50,1140.50 551.59,1138.88 553.68,1136.95 555.77,1134.68 557.86,1132.02 559.95,1128.93 562.04,1125.38 564.13,1121.33 566.22,1116.78 568.31,1111.73 570.40,1106.21 572.49,1100.29 574.58,1094.04 576.67,1087.57 578.76,1081.01 580.85,1074.47 582.94,1068.10 585.03,1062.00 587.12,1056.28 589.21,1050.99 591.30,1046.19 593.39,1041.89 595.48,1038.09 597.57,1034.77 599.66,1031.90 601.75,1029.44 603.84,1027.35 605.93,1025.58 608.02,1024.09 610.11,1022.85 612.20,1021.81 614.29,1020.95 616.38,1020.23 618.47,1019.64 620.56,1019.15 622.65,1018.75 624.74,1018.42 626.83,1018.15 628.92,1017.92 631.01,1017.74 633.10,1017.59 635.19,1017.46 637.28,1017.36 639.37,1017.28 641.46,1017.21 643.55,1017.15" fill="none" stroke="#3576b6" stroke-width="1.45" stroke-linejoin="round"/><rect x="652.10" y="985.60" width="142.3" height="18.4" fill="#a8cae1" stroke="#0d0d0d" stroke-width="1.5"/><rect x="652.10" y="1004.00" width="142.3" height="157.30" fill="none" stroke="#0d0d0d" stroke-width="1.5"/><text x="723.25" y="1000.30" font-size="15.4" text-anchor="middle" fill="#000" letter-spacing="-0.5">Item<tspan dy="-1.1">_</tspan><tspan dy="1.1">9</tspan></text><polyline points="660.45,1147.79 662.54,1147.66 664.63,1147.49 666.72,1147.29 668.81,1147.05 670.90,1146.76 672.99,1146.40 675.08,1145.96 677.17,1145.44 679.26,1144.80 681.35,1144.03 683.44,1143.10 685.53,1141.98 687.62,1140.65 689.71,1139.05 691.80,1137.16 693.89,1134.92 695.98,1132.31 698.07,1129.26 700.16,1125.75 702.25,1121.76 704.34,1117.25 706.43,1112.25 708.52,1106.78 710.61,1100.90 712.70,1094.68 714.79,1088.23 716.88,1081.66 718.97,1075.12 721.06,1068.73 723.15,1062.60 725.24,1056.83 727.33,1051.50 729.42,1046.64 731.51,1042.29 733.60,1038.44 735.69,1035.08 737.78,1032.17 739.87,1029.67 741.96,1027.54 744.05,1025.74 746.14,1024.23 748.23,1022.96 750.32,1021.90 752.41,1021.03 754.50,1020.30 756.59,1019.69 758.68,1019.20 760.77,1018.79 762.86,1018.45 764.95,1018.17 767.04,1017.94 769.13,1017.75 771.22,1017.60 773.31,1017.47 775.40,1017.37 777.49,1017.29 779.58,1017.22 781.67,1017.16 783.76,1017.11 785.85,1017.07" fill="none" stroke="#3576b6" stroke-width="1.45" stroke-linejoin="round"/><rect x="794.40" y="985.60" width="142.3" height="18.4" fill="#a8cae1" stroke="#0d0d0d" stroke-width="1.5"/><rect x="794.40" y="1004.00" width="142.3" height="157.30" fill="none" stroke="#0d0d0d" stroke-width="1.5"/><text x="865.55" y="1000.30" font-size="15.4" text-anchor="middle" fill="#000" letter-spacing="-0.5">Item<tspan dy="-1.1">_</tspan><tspan dy="1.1">10</tspan></text><polyline points="802.75,1145.66 804.84,1145.07 806.93,1144.35 809.02,1143.49 811.11,1142.45 813.20,1141.21 815.29,1139.72 817.38,1137.95 819.47,1135.86 821.56,1133.40 823.65,1130.53 825.74,1127.21 827.83,1123.41 829.92,1119.11 832.01,1114.31 834.10,1109.02 836.19,1103.30 838.28,1097.20 840.37,1090.83 842.46,1084.29 844.55,1077.73 846.64,1071.26 848.73,1065.01 850.82,1059.09 852.91,1053.57 855.00,1048.52 857.09,1043.97 859.18,1039.92 861.27,1036.37 863.36,1033.28 865.45,1030.62 867.54,1028.35 869.63,1026.42 871.72,1024.80 873.81,1023.44 875.90,1022.30 877.99,1021.36 880.08,1020.57 882.17,1019.92 884.26,1019.38 886.35,1018.94 888.44,1018.58 890.53,1018.28 892.62,1018.03 894.71,1017.82 896.80,1017.66 898.89,1017.52 900.98,1017.41 903.07,1017.32 905.16,1017.24 907.25,1017.18 909.34,1017.13 911.43,1017.09 913.52,1017.05 915.61,1017.03 917.70,1017.00 919.79,1016.98 921.88,1016.97 923.97,1016.96 926.06,1016.95 928.15,1016.94" fill="none" stroke="#3576b6" stroke-width="1.45" stroke-linejoin="round"/><path d="M225.20,1148.40h-10.8" stroke="#000" stroke-width="1.5"/><path d="M936.70,1148.40h10.8" stroke="#000" stroke-width="1.5"/><text x="958.00" y="1154.50" font-size="16.2" text-anchor="start" fill="#000">0.0</text><path d="M225.20,1122.10h-10.8" stroke="#000" stroke-width="1.5"/><path d="M936.70,1122.10h10.8" stroke="#000" stroke-width="1.5"/><text x="958.00" y="1128.20" font-size="16.2" text-anchor="start" fill="#000">0.2</text><path d="M225.20,1095.80h-10.8" stroke="#000" stroke-width="1.5"/><path d="M936.70,1095.80h10.8" stroke="#000" stroke-width="1.5"/><text x="958.00" y="1101.90" font-size="16.2" text-anchor="start" fill="#000">0.4</text><path d="M225.20,1069.50h-10.8" stroke="#000" stroke-width="1.5"/><path d="M936.70,1069.50h10.8" stroke="#000" stroke-width="1.5"/><text x="958.00" y="1075.60" font-size="16.2" text-anchor="start" fill="#000">0.6</text><path d="M225.20,1043.20h-10.8" stroke="#000" stroke-width="1.5"/><path d="M936.70,1043.20h10.8" stroke="#000" stroke-width="1.5"/><text x="958.00" y="1049.30" font-size="16.2" text-anchor="start" fill="#000">0.8</text><path d="M225.20,1016.90h-10.8" stroke="#000" stroke-width="1.5"/><path d="M936.70,1016.90h10.8" stroke="#000" stroke-width="1.5"/><text x="958.00" y="1023.00" font-size="16.2" text-anchor="start" fill="#000">1.0</text><rect x="225.20" y="1161.30" width="142.3" height="18.4" fill="#a8cae1" stroke="#0d0d0d" stroke-width="1.5"/><rect x="225.20" y="1179.70" width="142.3" height="156.70" fill="none" stroke="#0d0d0d" stroke-width="1.5"/><text x="296.35" y="1176.00" font-size="15.4" text-anchor="middle" fill="#000" letter-spacing="-0.5">Item<tspan dy="-1.1">_</tspan><tspan dy="1.1">1</tspan></text><polyline points="233.55,1323.33 235.64,1323.30 237.73,1323.25 239.82,1323.20 241.91,1323.13 244.00,1323.05 246.09,1322.95 248.18,1322.83 250.27,1322.68 252.36,1322.50 254.45,1322.28 256.54,1322.02 258.63,1321.70 260.72,1321.30 262.81,1320.83 264.90,1320.25 266.99,1319.55 269.08,1318.71 271.17,1317.69 273.26,1316.48 275.35,1315.02 277.44,1313.29 279.53,1311.24 281.62,1308.83 283.71,1306.02 285.80,1302.76 287.89,1299.03 289.98,1294.80 292.07,1290.07 294.16,1284.85 296.25,1279.19 298.34,1273.15 300.43,1266.83 302.52,1260.34 304.61,1253.80 306.70,1247.35 308.79,1241.10 310.88,1235.17 312.97,1229.63 315.06,1224.56 317.15,1219.98 319.24,1215.90 321.33,1212.31 323.42,1209.19 325.51,1206.50 327.60,1204.21 329.69,1202.26 331.78,1200.61 333.87,1199.24 335.96,1198.08 338.05,1197.12 340.14,1196.33 342.23,1195.67 344.32,1195.12 346.41,1194.67 348.50,1194.30 350.59,1194.00 352.68,1193.75 354.77,1193.54 356.86,1193.37 358.95,1193.23" fill="none" stroke="#3576b6" stroke-width="1.45" stroke-linejoin="round"/><path d="M233.55,1336.40v10.8" stroke="#000" stroke-width="1.5"/><path d="M254.45,1336.40v10.8" stroke="#000" stroke-width="1.5"/><path d="M275.35,1336.40v10.8" stroke="#000" stroke-width="1.5"/><path d="M296.25,1336.40v10.8" stroke="#000" stroke-width="1.5"/><path d="M317.15,1336.40v10.8" stroke="#000" stroke-width="1.5"/><path d="M338.05,1336.40v10.8" stroke="#000" stroke-width="1.5"/><path d="M358.95,1336.40v10.8" stroke="#000" stroke-width="1.5"/><text x="233.55" y="1370.00" font-size="16.2" text-anchor="middle" fill="#000">-6</text><text x="254.45" y="1370.00" font-size="16.2" text-anchor="middle" fill="#000">-4</text><text x="275.35" y="1370.00" font-size="16.2" text-anchor="middle" fill="#000">-2</text><text x="296.25" y="1370.00" font-size="16.2" text-anchor="middle" fill="#000">0</text><text x="317.15" y="1370.00" font-size="16.2" text-anchor="middle" fill="#000">2</text><text x="338.05" y="1370.00" font-size="16.2" text-anchor="middle" fill="#000">4</text><text x="358.95" y="1370.00" font-size="16.2" text-anchor="middle" fill="#000">6</text><rect x="367.50" y="1161.30" width="142.3" height="18.4" fill="#a8cae1" stroke="#0d0d0d" stroke-width="1.5"/><rect x="367.50" y="1179.70" width="142.3" height="156.70" fill="none" stroke="#0d0d0d" stroke-width="1.5"/><text x="438.65" y="1176.00" font-size="15.4" text-anchor="middle" fill="#000" letter-spacing="-0.5">Item<tspan dy="-1.1">_</tspan><tspan dy="1.1">2</tspan></text><polyline points="375.85,1323.22 377.94,1323.16 380.03,1323.09 382.12,1323.00 384.21,1322.89 386.30,1322.75 388.39,1322.59 390.48,1322.39 392.57,1322.14 394.66,1321.85 396.75,1321.49 398.84,1321.05 400.93,1320.52 403.02,1319.88 405.11,1319.11 407.20,1318.17 409.29,1317.05 411.38,1315.71 413.47,1314.11 415.56,1312.21 417.65,1309.96 419.74,1307.34 421.83,1304.29 423.92,1300.77 426.01,1296.76 428.10,1292.26 430.19,1287.26 432.28,1281.79 434.37,1275.91 436.46,1269.71 438.55,1263.27 440.64,1256.74 442.73,1250.23 444.82,1243.88 446.91,1237.79 449.00,1232.07 451.09,1226.78 453.18,1221.98 455.27,1217.67 457.36,1213.87 459.45,1210.54 461.54,1207.66 463.63,1205.19 465.72,1203.09 467.81,1201.32 469.90,1199.83 471.99,1198.58 474.08,1197.53 476.17,1196.67 478.26,1195.95 480.35,1195.35 482.44,1194.86 484.53,1194.46 486.62,1194.13 488.71,1193.85 490.80,1193.63 492.89,1193.44 494.98,1193.29 497.07,1193.17 499.16,1193.06 501.25,1192.98" fill="none" stroke="#3576b6" stroke-width="1.45" stroke-linejoin="round"/><path d="M375.85,1336.40v10.8" stroke="#000" stroke-width="1.5"/><path d="M396.75,1336.40v10.8" stroke="#000" stroke-width="1.5"/><path d="M417.65,1336.40v10.8" stroke="#000" stroke-width="1.5"/><path d="M438.55,1336.40v10.8" stroke="#000" stroke-width="1.5"/><path d="M459.45,1336.40v10.8" stroke="#000" stroke-width="1.5"/><path d="M480.35,1336.40v10.8" stroke="#000" stroke-width="1.5"/><path d="M501.25,1336.40v10.8" stroke="#000" stroke-width="1.5"/><rect x="509.80" y="1161.30" width="142.3" height="18.4" fill="#a8cae1" stroke="#0d0d0d" stroke-width="1.5"/><rect x="509.80" y="1179.70" width="142.3" height="156.70" fill="none" stroke="#0d0d0d" stroke-width="1.5"/><text x="580.95" y="1176.00" font-size="15.4" text-anchor="middle" fill="#000" letter-spacing="-0.5">Item<tspan dy="-1.1">_</tspan><tspan dy="1.1">3</tspan></text><polyline points="518.15,1322.95 520.24,1322.82 522.33,1322.67 524.42,1322.49 526.51,1322.27 528.60,1322.00 530.69,1321.68 532.78,1321.28 534.87,1320.80 536.96,1320.22 539.05,1319.51 541.14,1318.66 543.23,1317.64 545.32,1316.41 547.41,1314.94 549.50,1313.20 551.59,1311.13 553.68,1308.70 555.77,1305.87 557.86,1302.59 559.95,1298.83 562.04,1294.57 564.13,1289.82 566.22,1284.58 568.31,1278.90 570.40,1272.84 572.49,1266.51 574.58,1260.01 576.67,1253.48 578.76,1247.03 580.85,1240.80 582.94,1234.88 585.03,1229.37 587.12,1224.32 589.21,1219.76 591.30,1215.71 593.39,1212.15 595.48,1209.05 597.57,1206.38 599.66,1204.10 601.75,1202.17 603.84,1200.54 605.93,1199.17 608.02,1198.03 610.11,1197.08 612.20,1196.29 614.29,1195.64 616.38,1195.10 618.47,1194.65 620.56,1194.28 622.65,1193.98 624.74,1193.73 626.83,1193.53 628.92,1193.36 631.01,1193.22 633.10,1193.11 635.19,1193.02 637.28,1192.94 639.37,1192.88 641.46,1192.83 643.55,1192.79" fill="none" stroke="#3576b6" stroke-width="1.45" stroke-linejoin="round"/><path d="M518.15,1336.40v10.8" stroke="#000" stroke-width="1.5"/><path d="M539.05,1336.40v10.8" stroke="#000" stroke-width="1.5"/><path d="M559.95,1336.40v10.8" stroke="#000" stroke-width="1.5"/><path d="M580.85,1336.40v10.8" stroke="#000" stroke-width="1.5"/><path d="M601.75,1336.40v10.8" stroke="#000" stroke-width="1.5"/><path d="M622.65,1336.40v10.8" stroke="#000" stroke-width="1.5"/><path d="M643.55,1336.40v10.8" stroke="#000" stroke-width="1.5"/><text x="518.15" y="1370.00" font-size="16.2" text-anchor="middle" fill="#000">-6</text><text x="539.05" y="1370.00" font-size="16.2" text-anchor="middle" fill="#000">-4</text><text x="559.95" y="1370.00" font-size="16.2" text-anchor="middle" fill="#000">-2</text><text x="580.85" y="1370.00" font-size="16.2" text-anchor="middle" fill="#000">0</text><text x="601.75" y="1370.00" font-size="16.2" text-anchor="middle" fill="#000">2</text><text x="622.65" y="1370.00" font-size="16.2" text-anchor="middle" fill="#000">4</text><text x="643.55" y="1370.00" font-size="16.2" text-anchor="middle" fill="#000">6</text><rect x="652.10" y="1161.30" width="142.3" height="18.4" fill="#a8cae1" stroke="#0d0d0d" stroke-width="1.5"/><rect x="652.10" y="1179.70" width="142.3" height="156.70" fill="none" stroke="#0d0d0d" stroke-width="1.5"/><text x="723.25" y="1176.00" font-size="15.4" text-anchor="middle" fill="#000" letter-spacing="-0.5">Item<tspan dy="-1.1">_</tspan><tspan dy="1.1">4</tspan></text><polyline points="660.45,1319.70 662.54,1318.89 664.63,1317.91 666.72,1316.74 668.81,1315.33 670.90,1313.66 672.99,1311.68 675.08,1309.35 677.17,1306.62 679.26,1303.45 681.35,1299.82 683.44,1295.69 685.53,1291.05 687.62,1285.93 689.71,1280.36 691.80,1274.39 693.89,1268.11 695.98,1261.65 698.07,1255.11 700.16,1248.63 702.25,1242.33 704.34,1236.32 706.43,1230.71 708.52,1225.54 710.61,1220.86 712.70,1216.68 714.79,1212.99 716.88,1209.78 718.97,1207.01 721.06,1204.64 723.15,1202.62 725.24,1200.92 727.33,1199.49 729.42,1198.30 731.51,1197.30 733.60,1196.47 735.69,1195.79 737.78,1195.22 739.87,1194.76 741.96,1194.37 744.05,1194.05 746.14,1193.79 748.23,1193.58 750.32,1193.40 752.41,1193.26 754.50,1193.14 756.59,1193.04 758.68,1192.96 760.77,1192.90 762.86,1192.84 764.95,1192.80 767.04,1192.76 769.13,1192.73 771.22,1192.71 773.31,1192.69 775.40,1192.67 777.49,1192.66 779.58,1192.65 781.67,1192.64 783.76,1192.63 785.85,1192.63" fill="none" stroke="#3576b6" stroke-width="1.45" stroke-linejoin="round"/><path d="M660.45,1336.40v10.8" stroke="#000" stroke-width="1.5"/><path d="M681.35,1336.40v10.8" stroke="#000" stroke-width="1.5"/><path d="M702.25,1336.40v10.8" stroke="#000" stroke-width="1.5"/><path d="M723.15,1336.40v10.8" stroke="#000" stroke-width="1.5"/><path d="M744.05,1336.40v10.8" stroke="#000" stroke-width="1.5"/><path d="M764.95,1336.40v10.8" stroke="#000" stroke-width="1.5"/><path d="M785.85,1336.40v10.8" stroke="#000" stroke-width="1.5"/><rect x="794.40" y="1161.30" width="142.3" height="18.4" fill="#a8cae1" stroke="#0d0d0d" stroke-width="1.5"/><rect x="794.40" y="1179.70" width="142.3" height="156.70" fill="none" stroke="#0d0d0d" stroke-width="1.5"/><text x="865.55" y="1176.00" font-size="15.4" text-anchor="middle" fill="#000" letter-spacing="-0.5">Item<tspan dy="-1.1">_</tspan><tspan dy="1.1">5</tspan></text><polyline points="802.75,1323.22 804.84,1323.16 806.93,1323.09 809.02,1323.00 811.11,1322.89 813.20,1322.75 815.29,1322.59 817.38,1322.39 819.47,1322.14 821.56,1321.85 823.65,1321.49 825.74,1321.05 827.83,1320.52 829.92,1319.88 832.01,1319.11 834.10,1318.17 836.19,1317.05 838.28,1315.71 840.37,1314.11 842.46,1312.21 844.55,1309.96 846.64,1307.34 848.73,1304.29 850.82,1300.77 852.91,1296.76 855.00,1292.26 857.09,1287.26 859.18,1281.79 861.27,1275.91 863.36,1269.71 865.45,1263.27 867.54,1256.74 869.63,1250.23 871.72,1243.88 873.81,1237.79 875.90,1232.07 877.99,1226.78 880.08,1221.98 882.17,1217.67 884.26,1213.87 886.35,1210.54 888.44,1207.66 890.53,1205.19 892.62,1203.09 894.71,1201.32 896.80,1199.83 898.89,1198.58 900.98,1197.53 903.07,1196.67 905.16,1195.95 907.25,1195.35 909.34,1194.86 911.43,1194.46 913.52,1194.13 915.61,1193.85 917.70,1193.63 919.79,1193.44 921.88,1193.29 923.97,1193.17 926.06,1193.06 928.15,1192.98" fill="none" stroke="#3576b6" stroke-width="1.45" stroke-linejoin="round"/><path d="M802.75,1336.40v10.8" stroke="#000" stroke-width="1.5"/><path d="M823.65,1336.40v10.8" stroke="#000" stroke-width="1.5"/><path d="M844.55,1336.40v10.8" stroke="#000" stroke-width="1.5"/><path d="M865.45,1336.40v10.8" stroke="#000" stroke-width="1.5"/><path d="M886.35,1336.40v10.8" stroke="#000" stroke-width="1.5"/><path d="M907.25,1336.40v10.8" stroke="#000" stroke-width="1.5"/><path d="M928.15,1336.40v10.8" stroke="#000" stroke-width="1.5"/><text x="802.75" y="1370.00" font-size="16.2" text-anchor="middle" fill="#000">-6</text><text x="823.65" y="1370.00" font-size="16.2" text-anchor="middle" fill="#000">-4</text><text x="844.55" y="1370.00" font-size="16.2" text-anchor="middle" fill="#000">-2</text><text x="865.45" y="1370.00" font-size="16.2" text-anchor="middle" fill="#000">0</text><text x="886.35" y="1370.00" font-size="16.2" text-anchor="middle" fill="#000">2</text><text x="907.25" y="1370.00" font-size="16.2" text-anchor="middle" fill="#000">4</text><text x="928.15" y="1370.00" font-size="16.2" text-anchor="middle" fill="#000">6</text><path d="M225.20,1323.50h-10.8" stroke="#000" stroke-width="1.5"/><path d="M936.70,1323.50h10.8" stroke="#000" stroke-width="1.5"/><text x="203.80" y="1329.60" font-size="16.2" text-anchor="end" fill="#000">0.0</text><path d="M225.20,1297.32h-10.8" stroke="#000" stroke-width="1.5"/><path d="M936.70,1297.32h10.8" stroke="#000" stroke-width="1.5"/><text x="203.80" y="1303.42" font-size="16.2" text-anchor="end" fill="#000">0.2</text><path d="M225.20,1271.14h-10.8" stroke="#000" stroke-width="1.5"/><path d="M936.70,1271.14h10.8" stroke="#000" stroke-width="1.5"/><text x="203.80" y="1277.24" font-size="16.2" text-anchor="end" fill="#000">0.4</text><path d="M225.20,1244.96h-10.8" stroke="#000" stroke-width="1.5"/><path d="M936.70,1244.96h10.8" stroke="#000" stroke-width="1.5"/><text x="203.80" y="1251.06" font-size="16.2" text-anchor="end" fill="#000">0.6</text><path d="M225.20,1218.78h-10.8" stroke="#000" stroke-width="1.5"/><path d="M936.70,1218.78h10.8" stroke="#000" stroke-width="1.5"/><text x="203.80" y="1224.88" font-size="16.2" text-anchor="end" fill="#000">0.8</text><path d="M225.20,1192.60h-10.8" stroke="#000" stroke-width="1.5"/><path d="M936.70,1192.60h10.8" stroke="#000" stroke-width="1.5"/><text x="203.80" y="1198.70" font-size="16.2" text-anchor="end" fill="#000">1.0</text></g>
<text transform="translate(155.2 1103.8) rotate(-90)" fill="#000"><tspan x="0" font-size="21.6">P</tspan><tspan x="13.8" font-size="26" font-family='"Liberation Serif", serif'>(</tspan><tspan x="23.1" font-size="20" font-family='"Liberation Serif", serif'>θ</tspan><tspan x="34.2" font-size="26" font-family='"Liberation Serif", serif'>)</tspan></text>
<text x="580.00" y="1405.00" font-size="21" text-anchor="middle" fill="#000" font-family='"Liberation Serif", "DejaVu Serif", serif'>θ</text>
<clipPath id="cp"><rect x="1173.25" y="823.0" width="738.5" height="482.0"/></clipPath>
<g clip-path="url(#cp)"><polygon points="1173.25,1286.70 1173.25,1239.57 1174.22,1239.11 1175.19,1238.65 1176.16,1238.19 1177.13,1237.72 1178.10,1237.25 1179.07,1236.77 1180.04,1236.29 1181.01,1235.81 1181.98,1235.32 1182.95,1234.83 1183.92,1234.33 1184.89,1233.83 1185.87,1233.33 1186.84,1232.82 1187.81,1232.31 1188.78,1231.79 1189.75,1231.27 1190.72,1230.74 1191.69,1230.22 1192.66,1229.68 1193.63,1229.15 1194.60,1228.61 1195.57,1228.06 1196.54,1227.51 1197.51,1226.96 1198.48,1226.40 1199.45,1225.84 1200.42,1225.27 1201.39,1224.70 1202.36,1224.13 1203.33,1223.55 1204.30,1222.96 1205.27,1222.37 1206.24,1221.78 1207.21,1221.18 1208.18,1220.58 1209.15,1219.98 1210.12,1219.37 1211.10,1218.75 1212.07,1218.13 1213.04,1217.51 1214.01,1216.88 1214.98,1216.25 1215.95,1215.61 1216.92,1214.97 1217.89,1214.33 1218.86,1213.68 1219.83,1213.02 1220.80,1212.36 1221.77,1211.70 1222.74,1211.03 1223.71,1210.35 1224.68,1209.68 1225.65,1208.99 1226.62,1208.31 1227.59,1207.61 1228.56,1206.92 1229.53,1206.22 1230.50,1205.51 1231.47,1204.80 1232.44,1204.08 1233.41,1203.36 1234.38,1202.64 1235.36,1201.91 1236.33,1201.18 1237.30,1200.44 1238.27,1199.69 1239.24,1198.95 1240.21,1198.19 1241.18,1197.44 1242.15,1196.67 1243.12,1195.91 1244.09,1195.14 1245.06,1194.36 1246.03,1193.58 1247.00,1192.79 1247.97,1192.00 1248.94,1191.21 1249.91,1190.41 1250.88,1189.60 1251.85,1188.79 1252.82,1187.98 1253.79,1187.16 1254.76,1186.33 1255.73,1185.51 1256.70,1184.67 1257.67,1183.84 1258.64,1182.99 1259.61,1182.15 1260.59,1181.29 1261.56,1180.44 1262.53,1179.58 1263.50,1178.71 1264.47,1177.84 1265.44,1176.96 1266.41,1176.08 1267.38,1175.20 1268.35,1174.31 1269.32,1173.41 1270.29,1172.52 1271.26,1171.61 1272.23,1170.70 1273.20,1169.79 1274.17,1168.87 1275.14,1167.95 1276.11,1167.03 1277.08,1166.09 1278.05,1165.16 1279.02,1164.22 1279.99,1163.27 1280.96,1162.32 1281.93,1161.37 1282.90,1160.41 1283.87,1159.45 1284.85,1158.48 1285.82,1157.51 1286.79,1156.53 1287.76,1155.55 1288.73,1154.57 1288.73,1286.70" fill="#f7cecd"/><polygon points="1288.73,1286.70 1288.73,1154.57 1292.99,1150.18 1297.26,1145.71 1301.53,1141.16 1305.80,1136.53 1310.06,1131.82 1314.33,1127.03 1318.60,1122.16 1322.87,1117.22 1327.13,1112.21 1331.40,1107.12 1335.67,1101.97 1339.94,1096.75 1344.20,1091.47 1348.47,1086.13 1352.74,1080.73 1357.01,1075.28 1361.27,1069.77 1365.54,1064.21 1369.81,1058.61 1374.08,1052.96 1378.34,1047.28 1382.61,1041.56 1386.88,1035.80 1391.15,1030.02 1395.41,1024.22 1399.68,1018.41 1403.95,1012.58 1408.22,1006.75 1412.48,1000.92 1416.75,995.10 1421.02,989.30 1425.29,983.52 1429.55,977.78 1433.82,972.08 1438.09,966.43 1442.36,960.84 1446.62,955.32 1450.89,949.89 1455.16,944.55 1459.43,939.31 1463.69,934.20 1467.96,929.21 1472.23,924.37 1476.50,919.68 1480.76,915.16 1485.03,910.82 1489.30,906.67 1493.57,902.72 1497.83,898.99 1502.10,895.50 1506.37,892.24 1510.64,889.23 1514.90,886.49 1519.17,884.02 1523.44,881.83 1527.71,879.93 1531.97,878.33 1536.24,877.03 1540.51,876.04 1544.78,875.37 1549.04,875.02 1553.31,874.98 1557.58,875.27 1561.85,875.88 1566.11,876.82 1570.38,878.08 1574.65,879.65 1578.92,881.54 1583.18,883.74 1587.45,886.24 1591.72,889.04 1595.99,892.12 1600.25,895.49 1604.52,899.12 1608.79,903.01 1613.06,907.15 1617.32,911.53 1621.59,916.13 1625.86,920.94 1630.13,925.95 1634.39,931.15 1638.66,936.51 1642.93,942.04 1647.20,947.71 1651.46,953.50 1655.73,959.42 1660.00,965.43 1664.27,971.54 1668.53,977.72 1672.80,983.97 1677.07,990.27 1681.34,996.61 1685.60,1002.97 1689.87,1009.36 1694.14,1015.74 1698.41,1022.13 1702.67,1028.50 1706.94,1034.85 1711.21,1041.17 1715.48,1047.46 1719.74,1053.69 1724.01,1059.88 1728.28,1066.00 1732.55,1072.06 1736.81,1078.05 1741.08,1083.97 1745.35,1089.80 1749.62,1095.55 1753.88,1101.22 1758.15,1106.80 1762.42,1112.28 1766.68,1117.66 1770.95,1122.95 1775.22,1128.14 1779.49,1133.22 1783.75,1138.21 1788.02,1143.09 1792.29,1147.86 1796.56,1152.53 1796.56,1286.70" fill="#ccccfb"/><polygon points="1796.56,1286.70 1796.56,1152.53 1797.53,1153.57 1798.49,1154.61 1799.46,1155.64 1800.43,1156.67 1801.40,1157.69 1802.37,1158.71 1803.33,1159.72 1804.30,1160.72 1805.27,1161.72 1806.24,1162.71 1807.21,1163.70 1808.17,1164.69 1809.14,1165.66 1810.11,1166.64 1811.08,1167.60 1812.05,1168.56 1813.01,1169.52 1813.98,1170.47 1814.95,1171.41 1815.92,1172.35 1816.89,1173.29 1817.85,1174.21 1818.82,1175.14 1819.79,1176.05 1820.76,1176.96 1821.73,1177.87 1822.69,1178.77 1823.66,1179.67 1824.63,1180.56 1825.60,1181.44 1826.57,1182.32 1827.53,1183.19 1828.50,1184.06 1829.47,1184.92 1830.44,1185.78 1831.41,1186.63 1832.37,1187.48 1833.34,1188.32 1834.31,1189.15 1835.28,1189.98 1836.25,1190.81 1837.21,1191.62 1838.18,1192.44 1839.15,1193.25 1840.12,1194.05 1841.09,1194.85 1842.05,1195.64 1843.02,1196.43 1843.99,1197.21 1844.96,1197.99 1845.93,1198.76 1846.89,1199.52 1847.86,1200.29 1848.83,1201.04 1849.80,1201.79 1850.77,1202.54 1851.73,1203.28 1852.70,1204.01 1853.67,1204.74 1854.64,1205.47 1855.61,1206.19 1856.57,1206.90 1857.54,1207.61 1858.51,1208.32 1859.48,1209.02 1860.45,1209.71 1861.41,1210.40 1862.38,1211.08 1863.35,1211.76 1864.32,1212.44 1865.29,1213.11 1866.25,1213.77 1867.22,1214.43 1868.19,1215.09 1869.16,1215.74 1870.13,1216.38 1871.09,1217.02 1872.06,1217.66 1873.03,1218.29 1874.00,1218.92 1874.97,1219.54 1875.93,1220.16 1876.90,1220.77 1877.87,1221.38 1878.84,1221.98 1879.81,1222.58 1880.77,1223.17 1881.74,1223.76 1882.71,1224.34 1883.68,1224.92 1884.65,1225.50 1885.61,1226.07 1886.58,1226.63 1887.55,1227.20 1888.52,1227.75 1889.49,1228.31 1890.45,1228.86 1891.42,1229.40 1892.39,1229.94 1893.36,1230.47 1894.33,1231.01 1895.29,1231.53 1896.26,1232.05 1897.23,1232.57 1898.20,1233.09 1899.17,1233.60 1900.13,1234.10 1901.10,1234.60 1902.07,1235.10 1903.04,1235.59 1904.01,1236.08 1904.97,1236.57 1905.94,1237.05 1906.91,1237.53 1907.88,1238.00 1908.85,1238.47 1909.81,1238.93 1910.78,1239.40 1911.75,1239.85 1911.75,1286.70" fill="#f7cecd"/><path d="M1173.25,1153.10H1911.75" stroke="#bebebe" stroke-width="1.5" stroke-dasharray="0.9 4.5" stroke-linecap="round" fill="none"/><path d="M1288.73,1305.0V823.0" stroke="#bebebe" stroke-width="1.35" stroke-dasharray="5.4 5.4" stroke-linecap="round" fill="none"/><path d="M1796.56,1305.0V823.0" stroke="#bebebe" stroke-width="1.35" stroke-dasharray="5.4 5.4" stroke-linecap="round" fill="none"/><polyline points="1173.25,1239.57 1175.71,1238.40 1178.17,1237.21 1180.63,1235.99 1183.10,1234.75 1185.56,1233.49 1188.02,1232.19 1190.48,1230.87 1192.94,1229.53 1195.40,1228.15 1197.87,1226.75 1200.33,1225.33 1202.79,1223.87 1205.25,1222.39 1207.71,1220.88 1210.18,1219.34 1212.64,1217.77 1215.10,1216.17 1217.56,1214.54 1220.02,1212.89 1222.48,1211.20 1224.94,1209.49 1227.41,1207.75 1229.87,1205.97 1232.33,1204.17 1234.79,1202.33 1237.25,1200.47 1239.72,1198.58 1242.18,1196.65 1244.64,1194.70 1247.10,1192.71 1249.56,1190.69 1252.02,1188.65 1254.49,1186.57 1256.95,1184.46 1259.41,1182.33 1261.87,1180.16 1264.33,1177.96 1266.79,1175.73 1269.26,1173.47 1271.72,1171.18 1274.18,1168.87 1276.64,1166.52 1279.10,1164.14 1281.56,1161.74 1284.03,1159.30 1286.49,1156.84 1288.95,1154.34 1291.41,1151.82 1293.87,1149.27 1296.33,1146.69 1298.80,1144.09 1301.26,1141.46 1303.72,1138.80 1306.18,1136.11 1308.64,1133.40 1311.10,1130.66 1313.57,1127.89 1316.03,1125.10 1318.49,1122.29 1320.95,1119.45 1323.41,1116.58 1325.87,1113.69 1328.34,1110.78 1330.80,1107.85 1333.26,1104.89 1335.72,1101.91 1338.18,1098.91 1340.64,1095.88 1343.11,1092.84 1345.57,1089.77 1348.03,1086.69 1350.49,1083.59 1352.95,1080.46 1355.41,1077.32 1357.88,1074.16 1360.34,1070.98 1362.80,1067.79 1365.26,1064.58 1367.72,1061.36 1370.18,1058.11 1372.64,1054.86 1375.11,1051.59 1377.57,1048.31 1380.03,1045.02 1382.49,1041.72 1384.95,1038.40 1387.41,1035.08 1389.88,1031.75 1392.34,1028.41 1394.80,1025.06 1397.26,1021.71 1399.72,1018.35 1402.18,1014.99 1404.65,1011.63 1407.11,1008.27 1409.57,1004.90 1412.03,1001.54 1414.49,998.18 1416.95,994.83 1419.42,991.48 1421.88,988.14 1424.34,984.80 1426.80,981.48 1429.26,978.17 1431.72,974.87 1434.19,971.59 1436.65,968.33 1439.11,965.08 1441.57,961.86 1444.03,958.66 1446.49,955.49 1448.96,952.34 1451.42,949.22 1453.88,946.14 1456.34,943.09 1458.80,940.07 1461.27,937.10 1463.73,934.16 1466.19,931.27 1468.65,928.42 1471.11,925.62 1473.57,922.87 1476.04,920.18 1478.50,917.54 1480.96,914.95 1483.42,912.43 1485.88,909.97 1488.34,907.58 1490.81,905.25 1493.27,902.99 1495.73,900.80 1498.19,898.69 1500.65,896.66 1503.11,894.70 1505.58,892.83 1508.04,891.03 1510.50,889.33 1512.96,887.71 1515.42,886.18 1517.88,884.74 1520.35,883.39 1522.81,882.14 1525.27,880.98 1527.73,879.92 1530.19,878.96 1532.65,878.10 1535.12,877.34 1537.58,876.69 1540.04,876.14 1542.50,875.69 1544.96,875.35 1547.42,875.11 1549.88,874.98 1552.35,874.96 1554.81,875.05 1557.27,875.24 1559.73,875.54 1562.19,875.95 1564.65,876.46 1567.12,877.09 1569.58,877.82 1572.04,878.65 1574.50,879.59 1576.96,880.64 1579.42,881.79 1581.89,883.04 1584.35,884.39 1586.81,885.85 1589.27,887.40 1591.73,889.05 1594.19,890.79 1596.66,892.63 1599.12,894.56 1601.58,896.59 1604.04,898.70 1606.50,900.90 1608.96,903.18 1611.43,905.54 1613.89,907.99 1616.35,910.51 1618.81,913.11 1621.27,915.78 1623.73,918.52 1626.20,921.33 1628.66,924.21 1631.12,927.15 1633.58,930.15 1636.04,933.20 1638.50,936.32 1640.97,939.48 1643.43,942.70 1645.89,945.96 1648.35,949.26 1650.81,952.61 1653.28,956.00 1655.74,959.43 1658.20,962.89 1660.66,966.38 1663.12,969.90 1665.58,973.44 1668.05,977.01 1670.51,980.61 1672.97,984.22 1675.43,987.85 1677.89,991.49 1680.35,995.15 1682.82,998.81 1685.28,1002.49 1687.74,1006.17 1690.20,1009.85 1692.66,1013.53 1695.12,1017.22 1697.59,1020.90 1700.05,1024.58 1702.51,1028.26 1704.97,1031.92 1707.43,1035.58 1709.89,1039.23 1712.36,1042.87 1714.82,1046.49 1717.28,1050.10 1719.74,1053.69 1722.20,1057.26 1724.66,1060.82 1727.12,1064.35 1729.59,1067.87 1732.05,1071.36 1734.51,1074.83 1736.97,1078.27 1739.43,1081.69 1741.89,1085.09 1744.36,1088.45 1746.82,1091.79 1749.28,1095.11 1751.74,1098.39 1754.20,1101.64 1756.66,1104.87 1759.13,1108.06 1761.59,1111.22 1764.05,1114.35 1766.51,1117.45 1768.97,1120.51 1771.43,1123.54 1773.90,1126.54 1776.36,1129.51 1778.82,1132.44 1781.28,1135.33 1783.74,1138.19 1786.20,1141.02 1788.67,1143.81 1791.13,1146.57 1793.59,1149.29 1796.05,1151.98 1798.51,1154.63 1800.97,1157.24 1803.44,1159.82 1805.90,1162.37 1808.36,1164.88 1810.82,1167.35 1813.28,1169.78 1815.74,1172.19 1818.21,1174.55 1820.67,1176.88 1823.13,1179.17 1825.59,1181.43 1828.05,1183.66 1830.51,1185.85 1832.98,1188.00 1835.44,1190.12 1837.90,1192.20 1840.36,1194.25 1842.82,1196.27 1845.28,1198.25 1847.75,1200.20 1850.21,1202.11 1852.67,1203.99 1855.13,1205.84 1857.59,1207.65 1860.06,1209.43 1862.52,1211.18 1864.98,1212.90 1867.44,1214.58 1869.90,1216.24 1872.36,1217.86 1874.83,1219.45 1877.29,1221.01 1879.75,1222.54 1882.21,1224.04 1884.67,1225.51 1887.13,1226.96 1889.59,1228.37 1892.06,1229.75 1894.52,1231.11 1896.98,1232.44 1899.44,1233.74 1901.90,1235.02 1904.37,1236.26 1906.83,1237.49 1909.29,1238.68 1911.75,1239.85" fill="none" stroke="#0000f5" stroke-width="2.7" stroke-linejoin="round"/><polyline points="1173.25,1061.77 1175.71,1064.50 1178.17,1067.19 1180.63,1069.84 1183.10,1072.45 1185.56,1075.01 1188.02,1077.54 1190.48,1080.03 1192.94,1082.47 1195.40,1084.88 1197.87,1087.25 1200.33,1089.59 1202.79,1091.88 1205.25,1094.14 1207.71,1096.37 1210.18,1098.55 1212.64,1100.71 1215.10,1102.82 1217.56,1104.91 1220.02,1106.96 1222.48,1108.97 1224.94,1110.96 1227.41,1112.91 1229.87,1114.83 1232.33,1116.72 1234.79,1118.58 1237.25,1120.40 1239.72,1122.20 1242.18,1123.97 1244.64,1125.71 1247.10,1127.42 1249.56,1129.10 1252.02,1130.75 1254.49,1132.38 1256.95,1133.98 1259.41,1135.55 1261.87,1137.09 1264.33,1138.61 1266.79,1140.11 1269.26,1141.58 1271.72,1143.02 1274.18,1144.44 1276.64,1145.84 1279.10,1147.21 1281.56,1148.56 1284.03,1149.89 1286.49,1151.19 1288.95,1152.47 1291.41,1153.74 1293.87,1154.97 1296.33,1156.19 1298.80,1157.39 1301.26,1158.57 1303.72,1159.72 1306.18,1160.86 1308.64,1161.98 1311.10,1163.08 1313.57,1164.16 1316.03,1165.22 1318.49,1166.27 1320.95,1167.30 1323.41,1168.30 1325.87,1169.30 1328.34,1170.27 1330.80,1171.23 1333.26,1172.18 1335.72,1173.10 1338.18,1174.01 1340.64,1174.91 1343.11,1175.79 1345.57,1176.66 1348.03,1177.51 1350.49,1178.35 1352.95,1179.17 1355.41,1179.98 1357.88,1180.78 1360.34,1181.56 1362.80,1182.33 1365.26,1183.09 1367.72,1183.83 1370.18,1184.56 1372.64,1185.28 1375.11,1185.99 1377.57,1186.68 1380.03,1187.37 1382.49,1188.04 1384.95,1188.70 1387.41,1189.35 1389.88,1189.99 1392.34,1190.62 1394.80,1191.23 1397.26,1191.84 1399.72,1192.43 1402.18,1193.02 1404.65,1193.59 1407.11,1194.16 1409.57,1194.71 1412.03,1195.25 1414.49,1195.79 1416.95,1196.31 1419.42,1196.83 1421.88,1197.33 1424.34,1197.82 1426.80,1198.31 1429.26,1198.79 1431.72,1199.25 1434.19,1199.71 1436.65,1200.15 1439.11,1200.59 1441.57,1201.02 1444.03,1201.44 1446.49,1201.85 1448.96,1202.25 1451.42,1202.64 1453.88,1203.02 1456.34,1203.39 1458.80,1203.76 1461.27,1204.11 1463.73,1204.46 1466.19,1204.79 1468.65,1205.12 1471.11,1205.43 1473.57,1205.74 1476.04,1206.04 1478.50,1206.33 1480.96,1206.61 1483.42,1206.88 1485.88,1207.14 1488.34,1207.39 1490.81,1207.63 1493.27,1207.87 1495.73,1208.09 1498.19,1208.30 1500.65,1208.51 1503.11,1208.70 1505.58,1208.89 1508.04,1209.07 1510.50,1209.23 1512.96,1209.39 1515.42,1209.54 1517.88,1209.68 1520.35,1209.81 1522.81,1209.93 1525.27,1210.04 1527.73,1210.14 1530.19,1210.23 1532.65,1210.31 1535.12,1210.38 1537.58,1210.44 1540.04,1210.49 1542.50,1210.53 1544.96,1210.56 1547.42,1210.58 1549.88,1210.60 1552.35,1210.60 1554.81,1210.59 1557.27,1210.57 1559.73,1210.54 1562.19,1210.51 1564.65,1210.46 1567.12,1210.40 1569.58,1210.33 1572.04,1210.25 1574.50,1210.17 1576.96,1210.07 1579.42,1209.96 1581.89,1209.84 1584.35,1209.71 1586.81,1209.57 1589.27,1209.42 1591.73,1209.26 1594.19,1209.09 1596.66,1208.91 1599.12,1208.72 1601.58,1208.52 1604.04,1208.30 1606.50,1208.08 1608.96,1207.85 1611.43,1207.60 1613.89,1207.35 1616.35,1207.08 1618.81,1206.81 1621.27,1206.52 1623.73,1206.22 1626.20,1205.91 1628.66,1205.59 1631.12,1205.26 1633.58,1204.92 1636.04,1204.57 1638.50,1204.20 1640.97,1203.83 1643.43,1203.44 1645.89,1203.04 1648.35,1202.64 1650.81,1202.21 1653.28,1201.78 1655.74,1201.34 1658.20,1200.89 1660.66,1200.42 1663.12,1199.94 1665.58,1199.45 1668.05,1198.95 1670.51,1198.44 1672.97,1197.91 1675.43,1197.37 1677.89,1196.82 1680.35,1196.26 1682.82,1195.69 1685.28,1195.10 1687.74,1194.50 1690.20,1193.89 1692.66,1193.27 1695.12,1192.63 1697.59,1191.98 1700.05,1191.32 1702.51,1190.64 1704.97,1189.95 1707.43,1189.25 1709.89,1188.54 1712.36,1187.81 1714.82,1187.06 1717.28,1186.31 1719.74,1185.54 1722.20,1184.75 1724.66,1183.95 1727.12,1183.14 1729.59,1182.31 1732.05,1181.47 1734.51,1180.61 1736.97,1179.74 1739.43,1178.85 1741.89,1177.94 1744.36,1177.02 1746.82,1176.09 1749.28,1175.14 1751.74,1174.17 1754.20,1173.18 1756.66,1172.18 1759.13,1171.16 1761.59,1170.13 1764.05,1169.07 1766.51,1168.00 1768.97,1166.91 1771.43,1165.81 1773.90,1164.68 1776.36,1163.53 1778.82,1162.37 1781.28,1161.19 1783.74,1159.98 1786.20,1158.76 1788.67,1157.51 1791.13,1156.25 1793.59,1154.96 1796.05,1153.66 1798.51,1152.33 1800.97,1150.98 1803.44,1149.61 1805.90,1148.21 1808.36,1146.79 1810.82,1145.35 1813.28,1143.89 1815.74,1142.40 1818.21,1140.88 1820.67,1139.34 1823.13,1137.78 1825.59,1136.19 1828.05,1134.57 1830.51,1132.93 1832.98,1131.26 1835.44,1129.57 1837.90,1127.85 1840.36,1126.09 1842.82,1124.31 1845.28,1122.51 1847.75,1120.67 1850.21,1118.80 1852.67,1116.90 1855.13,1114.98 1857.59,1113.02 1860.06,1111.03 1862.52,1109.00 1864.98,1106.95 1867.44,1104.86 1869.90,1102.74 1872.36,1100.58 1874.83,1098.40 1877.29,1096.17 1879.75,1093.91 1882.21,1091.62 1884.67,1089.28 1887.13,1086.92 1889.59,1084.51 1892.06,1082.07 1894.52,1079.58 1896.98,1077.06 1899.44,1074.50 1901.90,1071.90 1904.37,1069.26 1906.83,1066.58 1909.29,1063.85 1911.75,1061.09" fill="none" stroke="#ea3323" stroke-width="2.7" stroke-dasharray="10.8 10.8" stroke-dashoffset="2.0" stroke-linecap="round" stroke-linejoin="round"/><circle cx="1288.73" cy="1154.2" r="7.7"/><circle cx="1796.56" cy="1151.8" r="7.7"/></g>
<g><rect x="1173.25" y="823.0" width="738.5" height="482.0" fill="none" stroke="#000" stroke-width="1.35"/><path d="M1173.25,1286.70h-13" stroke="#000" stroke-width="1.35"/><text x="1141.50" y="1286.70" font-size="21.6" text-anchor="middle" fill="#000" transform="rotate(-90 1141.50 1286.70)">0.0</text><path d="M1173.25,1219.90h-13" stroke="#000" stroke-width="1.35"/><text x="1141.50" y="1219.90" font-size="21.6" text-anchor="middle" fill="#000" transform="rotate(-90 1141.50 1219.90)">0.5</text><path d="M1173.25,1153.10h-13" stroke="#000" stroke-width="1.35"/><text x="1141.50" y="1153.10" font-size="21.6" text-anchor="middle" fill="#000" transform="rotate(-90 1141.50 1153.10)">1.0</text><path d="M1173.25,1086.30h-13" stroke="#000" stroke-width="1.35"/><text x="1141.50" y="1086.30" font-size="21.6" text-anchor="middle" fill="#000" transform="rotate(-90 1141.50 1086.30)">1.5</text><path d="M1173.25,1019.50h-13" stroke="#000" stroke-width="1.35"/><text x="1141.50" y="1019.50" font-size="21.6" text-anchor="middle" fill="#000" transform="rotate(-90 1141.50 1019.50)">2.0</text><path d="M1173.25,952.70h-13" stroke="#000" stroke-width="1.35"/><text x="1141.50" y="952.70" font-size="21.6" text-anchor="middle" fill="#000" transform="rotate(-90 1141.50 952.70)">2.5</text><path d="M1173.25,885.90h-13" stroke="#000" stroke-width="1.35"/><text x="1141.50" y="885.90" font-size="21.6" text-anchor="middle" fill="#000" transform="rotate(-90 1141.50 885.90)">3.0</text><path d="M1217.56,1305.0v13" stroke="#000" stroke-width="1.35"/><text x="1217.56" y="1351.00" font-size="21.6" text-anchor="middle" fill="#000">-4</text><path d="M1393.28,1305.0v13" stroke="#000" stroke-width="1.35"/><text x="1393.28" y="1351.00" font-size="21.6" text-anchor="middle" fill="#000">-2</text><path d="M1569.00,1305.0v13" stroke="#000" stroke-width="1.35"/><text x="1569.00" y="1351.00" font-size="21.6" text-anchor="middle" fill="#000">0</text><path d="M1744.72,1305.0v13" stroke="#000" stroke-width="1.35"/><text x="1744.72" y="1351.00" font-size="21.6" text-anchor="middle" fill="#000">2</text><text x="1542.00" y="779.50" font-size="25.9" text-anchor="middle" font-weight="bold" fill="#000">Test Information and Standard Error</text><text x="1089.50" y="1063.00" font-size="21.6" text-anchor="middle" fill="#000" transform="rotate(-90 1089.50 1063.00)">Information / SE</text><text x="1542.00" y="1403.00" font-size="21.6" text-anchor="middle" fill="#000" font-family='"Liberation Serif", "DejaVu Serif", serif'>θ</text><text y="1067.5" font-size="21.4" fill="#000"><tspan x="1193.3" font-family='"Liberation Serif", serif'>θ</tspan><tspan x="1209.6" dy="1.6" font-size="19.5" font-family='"Liberation Serif", serif'>=</tspan><tspan x="1226.5" dy="-1.6">-3.19</tspan></text><text y="1062.5" font-size="21.4" fill="#000"><tspan x="1809.5" font-family='"Liberation Serif", serif'>θ</tspan><tspan x="1825.8" dy="1.6" font-size="19.5" font-family='"Liberation Serif", serif'>=</tspan><tspan x="1842.7" dy="-1.6">2.59</tspan></text><path d="M1639.4,849.3H1678.6" stroke="#0000f5" stroke-width="2.7" stroke-linecap="round"/><path d="M1639.6,875.2H1679.5" stroke="#ea3323" stroke-width="2.7" stroke-dasharray="10.8 10.8" stroke-linecap="round"/><rect x="1649.3" y="891.5" width="19.2" height="19.2" fill="#ccccfb"/><rect x="1649.3" y="917.4" width="19.2" height="19.2" fill="#f7cecd"/><text x="1698.00" y="857.00" font-size="21.4" text-anchor="start" fill="#000" letter-spacing="0.12">Test Information</text><text x="1698.00" y="882.70" font-size="21.4" text-anchor="start" fill="#000" letter-spacing="0.12">Standard Error</text><text x="1698.00" y="908.40" font-size="21.4" text-anchor="start" fill="#000" letter-spacing="0.12">Reliable Region</text><text x="1698.00" y="933.60" font-size="21.4" text-anchor="start" fill="#000" letter-spacing="0.12">Less Reliable Region</text></g></svg>
</div>
</body></html>
